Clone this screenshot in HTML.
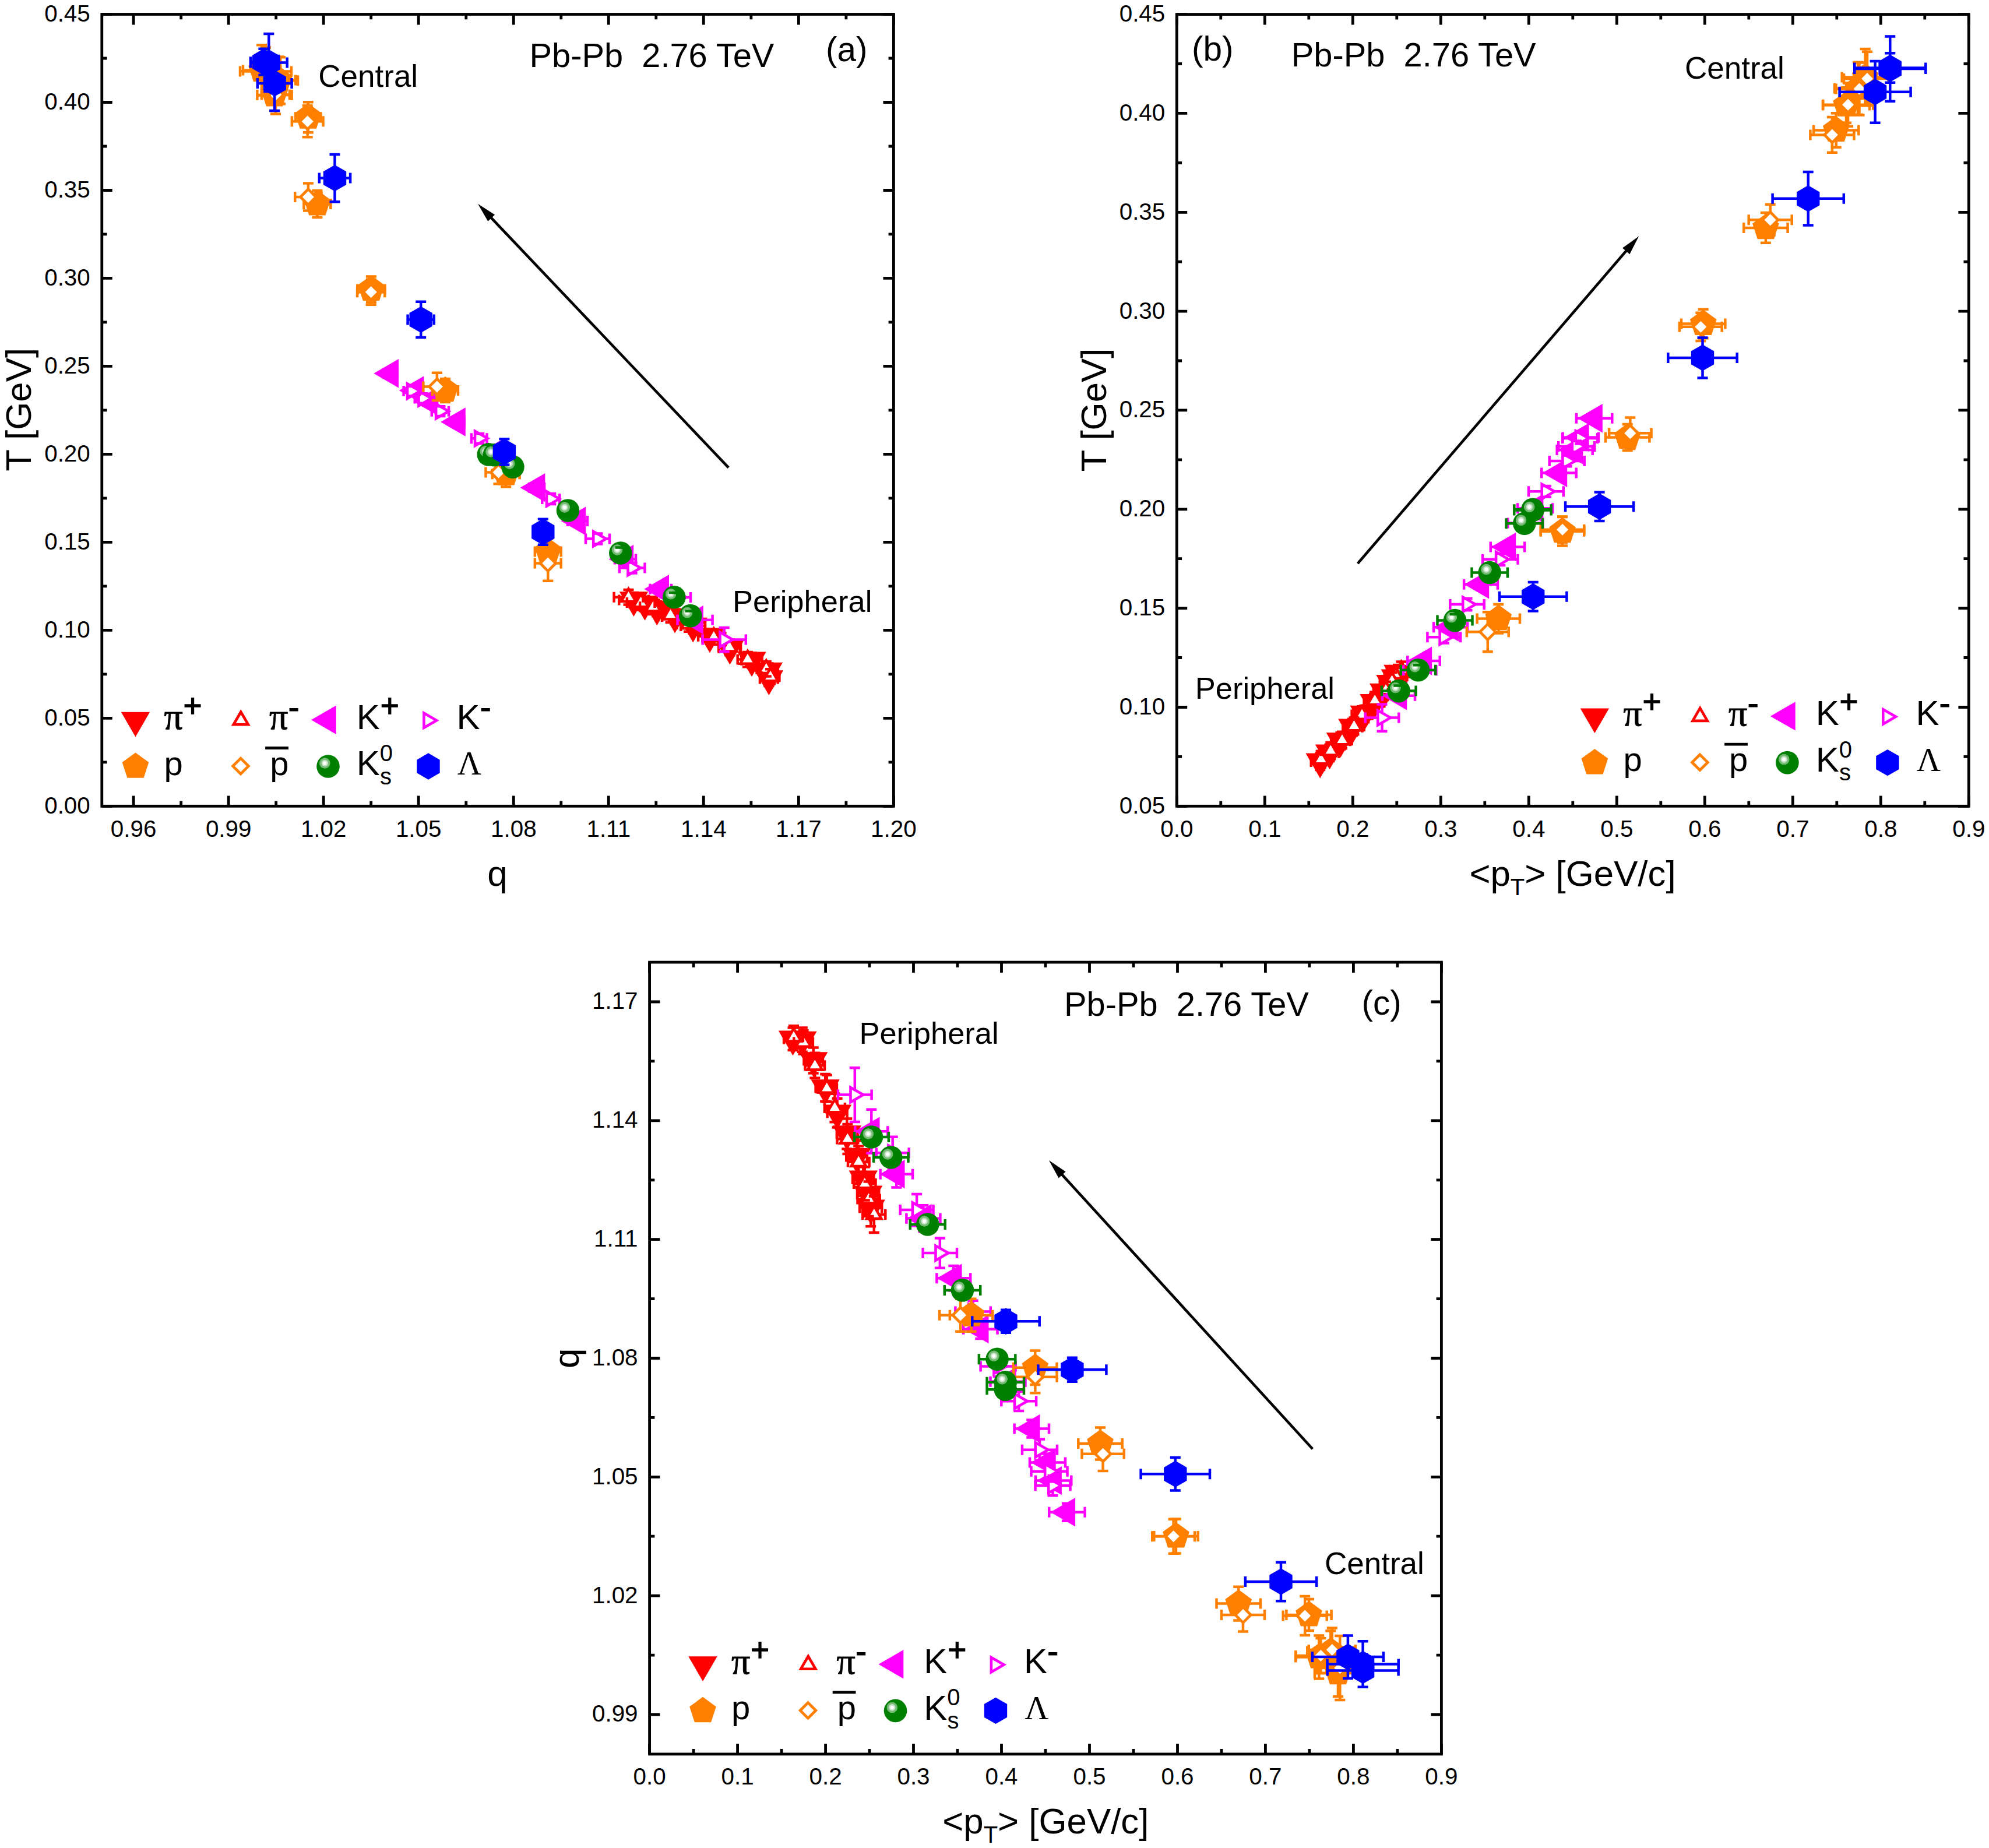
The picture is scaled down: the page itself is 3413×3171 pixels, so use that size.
<!DOCTYPE html>
<html><head><meta charset="utf-8"><title>Pb-Pb 2.76 TeV</title><style>html,body{margin:0;padding:0;background:#fff}svg{display:block}</style></head><body>
<svg width="3413" height="3171" viewBox="0 0 3413 3171">
<defs><radialGradient id="hl"><stop offset="0" stop-color="#fff"/><stop offset=".28" stop-color="#fff"/><stop offset=".34" stop-color="#d4ead4"/><stop offset=".56" stop-color="#b9dcb9"/><stop offset=".62" stop-color="#7fbf7f"/><stop offset=".94" stop-color="#6ab56a"/><stop offset="1" stop-color="#008000"/></radialGradient>
<g id="sp"><circle r="19.8" fill="#008000"/><circle cx="-5.7" cy="-5.5" r="9.6" fill="url(#hl)"/></g></defs>
<rect width="3413" height="3171" fill="#fff"/>
<path d="M1062.2 1029.4H1112.8M1087.5 1016.9V1041.9M1082.3 1036.2H1130.7M1106.5 1023.7V1048.7M1104.2 1044.8H1150.4M1127.3 1032.3V1057.3M1136.1 1057.9H1180.1M1158.1 1045.4V1070.4M1168.3 1074H1210.1M1189.2 1061.5V1086.5M1198.1 1091.7H1237.7M1217.9 1079.2V1104.2M1233.7 1111.9H1271.1M1252.4 1099.4V1124.4M1272.4 1132.8H1307.6M1290 1120.3V1145.3M1301.8 1151H1334.8M1318.3 1138.5V1163.5M1304 1164.4H1334.8M1319.4 1151.9V1176.9" stroke="#ff0000" stroke-width="4.5" fill="none"/>
<path d="M1087.5 1057.9L1062.8 1015.2H1112.2z" fill="#ff0000"/><path d="M1106.5 1064.7L1081.8 1022H1131.2z" fill="#ff0000"/><path d="M1127.3 1073.3L1102.6 1030.5H1152z" fill="#ff0000"/><path d="M1158.1 1086.4L1133.4 1043.7H1182.8z" fill="#ff0000"/><path d="M1189.2 1102.5L1164.5 1059.8H1213.9z" fill="#ff0000"/><path d="M1217.9 1120.2L1193.2 1077.5H1242.6z" fill="#ff0000"/><path d="M1252.4 1140.4L1227.7 1097.7H1277.1z" fill="#ff0000"/><path d="M1290 1161.3L1265.3 1118.5H1314.7z" fill="#ff0000"/><path d="M1318.3 1179.5L1293.6 1136.8H1343z" fill="#ff0000"/><path d="M1319.4 1192.9L1294.7 1150.2H1344.1z" fill="#ff0000"/>
<path d="M1062.2 1020.4v18.0M1112.8 1020.4v18.0M1078.5 1016.9h18.0M1078.5 1041.9h18.0M1082.3 1027.2v18.0M1130.7 1027.2v18.0M1097.5 1023.7h18.0M1097.5 1048.7h18.0M1104.2 1035.8v18.0M1150.4 1035.8v18.0M1118.3 1032.3h18.0M1118.3 1057.3h18.0M1136.1 1048.9v18.0M1180.1 1048.9v18.0M1149.1 1045.4h18.0M1149.1 1070.4h18.0M1168.3 1065v18.0M1210.1 1065v18.0M1180.2 1061.5h18.0M1180.2 1086.5h18.0M1198.1 1082.7v18.0M1237.7 1082.7v18.0M1208.9 1079.2h18.0M1208.9 1104.2h18.0M1233.7 1102.9v18.0M1271.1 1102.9v18.0M1243.4 1099.4h18.0M1243.4 1124.4h18.0M1272.4 1123.8v18.0M1307.6 1123.8v18.0M1281 1120.3h18.0M1281 1145.3h18.0M1301.8 1142v18.0M1334.8 1142v18.0M1309.3 1138.5h18.0M1309.3 1163.5h18.0M1304 1155.4v18.0M1334.8 1155.4v18.0M1310.4 1151.9h18.0M1310.4 1176.9h18.0" stroke="#ff0000" stroke-width="4.5" fill="none"/>
<path d="M1053.6 1024.8H1103.4M1078.5 1012.1V1037.5M1075.9 1033.9H1123.5M1099.7 1021.2V1046.6M1098.1 1041.3H1143.5M1120.8 1028.6V1054M1129 1055.2H1172.2M1150.6 1042.5V1067.9M1161.5 1071H1202.5M1182 1058.3V1083.7M1205.4 1093H1244.2M1224.8 1080.3V1105.7M1233.2 1110.2H1269.8M1251.5 1097.5V1122.9M1265.7 1131.6H1300.1M1282.9 1118.9V1144.3M1298.6 1147.8H1331M1314.8 1135.1V1160.5M1306.8 1160.9H1337.4M1322.1 1148.2V1173.6" stroke="#ff0000" stroke-width="4.5" fill="none"/>
<path d="M1078.5 1010.3L1091.1 1032H1065.9z" fill="#fff" stroke="#ff0000" stroke-width="4.6"/><path d="M1099.7 1019.4L1112.3 1041.2H1087.1z" fill="#fff" stroke="#ff0000" stroke-width="4.6"/><path d="M1120.8 1026.8L1133.4 1048.5H1108.2z" fill="#fff" stroke="#ff0000" stroke-width="4.6"/><path d="M1150.6 1040.7L1163.2 1062.5H1138z" fill="#fff" stroke="#ff0000" stroke-width="4.6"/><path d="M1182 1056.5L1194.6 1078.2H1169.4z" fill="#fff" stroke="#ff0000" stroke-width="4.6"/><path d="M1224.8 1078.5L1237.4 1100.2H1212.2z" fill="#fff" stroke="#ff0000" stroke-width="4.6"/><path d="M1251.5 1095.7L1264.1 1117.5H1238.9z" fill="#fff" stroke="#ff0000" stroke-width="4.6"/><path d="M1282.9 1117.1L1295.5 1138.8H1270.3z" fill="#fff" stroke="#ff0000" stroke-width="4.6"/><path d="M1314.8 1133.3L1327.4 1155H1302.2z" fill="#fff" stroke="#ff0000" stroke-width="4.6"/><path d="M1322.1 1146.4L1334.7 1168.2H1309.5z" fill="#fff" stroke="#ff0000" stroke-width="4.6"/>
<path d="M1053.6 1015.8v18.0M1103.4 1015.8v18.0M1069.5 1012.1h18.0M1069.5 1037.5h18.0M1075.9 1024.9v18.0M1123.5 1024.9v18.0M1090.7 1021.2h18.0M1090.7 1046.6h18.0M1098.1 1032.3v18.0M1143.5 1032.3v18.0M1111.8 1028.6h18.0M1111.8 1054h18.0M1129 1046.2v18.0M1172.2 1046.2v18.0M1141.6 1042.5h18.0M1141.6 1067.9h18.0M1161.5 1062v18.0M1202.5 1062v18.0M1173 1058.3h18.0M1173 1083.7h18.0M1205.4 1084v18.0M1244.2 1084v18.0M1215.8 1080.3h18.0M1215.8 1105.7h18.0M1233.2 1101.2v18.0M1269.8 1101.2v18.0M1242.5 1097.5h18.0M1242.5 1122.9h18.0M1265.7 1122.6v18.0M1300.1 1122.6v18.0M1273.9 1118.9h18.0M1273.9 1144.3h18.0M1298.6 1138.8v18.0M1331 1138.8v18.0M1305.8 1135.1h18.0M1305.8 1160.5h18.0M1306.8 1151.9v18.0M1337.4 1151.9v18.0M1313.1 1148.2h18.0M1313.1 1173.6h18.0" stroke="#ff0000" stroke-width="4.5" fill="none"/>
<path d="M657.8 640.7H681.8M669.8 634.7V646.7M701.2 669.9H725.2M713.2 663.9V675.9M726 689H750M738 683V695M772.5 724H796.5M784.5 718V730M837 778H861M849 772V784M908.1 836.8H934.1M921.1 830.8V842.8M974 894.1H1008M991 888.1V900.1M1055 959.4H1091M1073 953.4V965.4M1115.5 1010.8H1152.1M1133.8 1004.8V1016.8M1162.6 1063.8H1222.6M1192.6 1055.8V1071.8" stroke="#ff00ff" stroke-width="4.5" fill="none"/>
<path d="M641.3 640.7L684 616V665.4z" fill="#ff00ff"/><path d="M684.7 669.9L727.5 645.2V694.6z" fill="#ff00ff"/><path d="M709.5 689L752.2 664.3V713.7z" fill="#ff00ff"/><path d="M756 724L798.8 699.3V748.7z" fill="#ff00ff"/><path d="M820.5 778L863.2 753.3V802.7z" fill="#ff00ff"/><path d="M892.6 836.8L935.4 812.1V861.5z" fill="#ff00ff"/><path d="M962.5 894.1L1005.2 869.4V918.8z" fill="#ff00ff"/><path d="M1044.5 959.4L1087.2 934.7V984.1z" fill="#ff00ff"/><path d="M1105.3 1010.8L1148 986.1V1035.5z" fill="#ff00ff"/><path d="M1164.1 1063.8L1206.8 1039.1V1088.5z" fill="#ff00ff"/>
<path d="M657.8 631.7v18.0M681.8 631.7v18.0M660.8 634.7h18.0M660.8 646.7h18.0M701.2 660.9v18.0M725.2 660.9v18.0M704.2 663.9h18.0M704.2 675.9h18.0M726 680v18.0M750 680v18.0M729 683h18.0M729 695h18.0M772.5 715v18.0M796.5 715v18.0M775.5 718h18.0M775.5 730h18.0M837 769v18.0M861 769v18.0M840 772h18.0M840 784h18.0M908.1 827.8v18.0M934.1 827.8v18.0M912.1 830.8h18.0M912.1 842.8h18.0M974 885.1v18.0M1008 885.1v18.0M982 888.1h18.0M982 900.1h18.0M1055 950.4v18.0M1091 950.4v18.0M1064 953.4h18.0M1064 965.4h18.0M1115.5 1001.8v18.0M1152.1 1001.8v18.0M1124.8 1004.8h18.0M1124.8 1016.8h18.0M1162.6 1054.8v18.0M1222.6 1054.8v18.0M1183.6 1055.8h18.0M1183.6 1071.8h18.0" stroke="#ff00ff" stroke-width="4.5" fill="none"/>
<path d="M692.6 671.1H720M706.3 662.7V679.5M711.8 683.6H739.8M725.8 675.2V692M740.8 705.7H770M755.4 697.3V714.1M808.9 752.3H835.5M822.2 743.9V760.7M856 800.5H884M870 791.5V809.5M930.3 855.9H960.3M945.3 846.9V864.9M1005 924.6H1046M1025.5 915.6V933.6M1062.9 974.5H1106.5M1084.7 965.5V983.5M1141 1025.1H1185M1163 1016.1V1034.1M1205.6 1097.5H1279.8M1242.7 1076.9V1118.1" stroke="#ff00ff" stroke-width="4.5" fill="none"/>
<path d="M720.8 671.1L699 683.7V658.5z" fill="#fff" stroke="#ff00ff" stroke-width="4.6"/><path d="M740.3 683.6L718.5 696.2V671z" fill="#fff" stroke="#ff00ff" stroke-width="4.6"/><path d="M769.9 705.7L748.1 718.3V693.1z" fill="#fff" stroke="#ff00ff" stroke-width="4.6"/><path d="M836.7 752.3L815 764.9V739.7z" fill="#fff" stroke="#ff00ff" stroke-width="4.6"/><path d="M884.5 800.5L862.8 813.1V787.9z" fill="#fff" stroke="#ff00ff" stroke-width="4.6"/><path d="M959.8 855.9L938 868.5V843.3z" fill="#fff" stroke="#ff00ff" stroke-width="4.6"/><path d="M1040 924.6L1018.2 937.2V912z" fill="#fff" stroke="#ff00ff" stroke-width="4.6"/><path d="M1099.2 974.5L1077.5 987.1V961.9z" fill="#fff" stroke="#ff00ff" stroke-width="4.6"/><path d="M1177.5 1025.1L1155.8 1037.7V1012.5z" fill="#fff" stroke="#ff00ff" stroke-width="4.6"/><path d="M1257.2 1097.5L1235.5 1110.1V1084.9z" fill="#fff" stroke="#ff00ff" stroke-width="4.6"/>
<path d="M692.6 662.1v18.0M720 662.1v18.0M697.3 662.7h18.0M697.3 679.5h18.0M711.8 674.6v18.0M739.8 674.6v18.0M716.8 675.2h18.0M716.8 692h18.0M740.8 696.7v18.0M770 696.7v18.0M746.4 697.3h18.0M746.4 714.1h18.0M808.9 743.3v18.0M835.5 743.3v18.0M813.2 743.9h18.0M813.2 760.7h18.0M856 791.5v18.0M884 791.5v18.0M861 791.5h18.0M861 809.5h18.0M930.3 846.9v18.0M960.3 846.9v18.0M936.3 846.9h18.0M936.3 864.9h18.0M1005 915.6v18.0M1046 915.6v18.0M1016.5 915.6h18.0M1016.5 933.6h18.0M1062.9 965.5v18.0M1106.5 965.5v18.0M1075.7 965.5h18.0M1075.7 983.5h18.0M1141 1016.1v18.0M1185 1016.1v18.0M1154 1016.1h18.0M1154 1034.1h18.0M1205.6 1088.5v18.0M1279.8 1088.5v18.0M1233.7 1076.9h18.0M1233.7 1118.1h18.0" stroke="#ff00ff" stroke-width="4.5" fill="none"/>
<path d="M417 120.5H481M449 77.2V163.8M451 137.6H507M479 97.6V177.6M441.4 163H500.6M471 136V190M507.2 201.3H550.4M528.8 175.3V227.3M521.4 350.1H567.4M544.4 327.1V373.1M613.3 496.5H660.5M636.9 474.5V518.5M742 669.9H786M764 649.9V689.9M844.8 813.2H891.6M868.2 791.2V835.2M917.9 946.4H962.7M940.3 924.4V968.4" stroke="#ff8000" stroke-width="4.5" fill="none"/>
<path d="M449 96.5L471.8 113.1L463.1 139.9L434.9 139.9L426.2 113.1z" fill="#ff8000"/><path d="M479 113.6L501.8 130.2L493.1 157L464.9 157L456.2 130.2z" fill="#ff8000"/><path d="M471 139L493.8 155.6L485.1 182.4L456.9 182.4L448.2 155.6z" fill="#ff8000"/><path d="M528.8 177.3L551.6 193.9L542.9 220.7L514.7 220.7L506 193.9z" fill="#ff8000"/><path d="M544.4 326.1L567.2 342.7L558.5 369.5L530.3 369.5L521.6 342.7z" fill="#ff8000"/><path d="M636.9 472.5L659.7 489.1L651 515.9L622.8 515.9L614.1 489.1z" fill="#ff8000"/><path d="M764 645.9L786.8 662.5L778.1 689.3L749.9 689.3L741.2 662.5z" fill="#ff8000"/><path d="M868.2 789.2L891 805.8L882.3 832.6L854.1 832.6L845.4 805.8z" fill="#ff8000"/><path d="M940.3 922.4L963.1 939L954.4 965.8L926.2 965.8L917.5 939z" fill="#ff8000"/>
<path d="M417 111.5v18.0M481 111.5v18.0M440 77.2h18.0M440 163.8h18.0M451 128.6v18.0M507 128.6v18.0M470 97.6h18.0M470 177.6h18.0M441.4 154v18.0M500.6 154v18.0M462 136h18.0M462 190h18.0M507.2 192.3v18.0M550.4 192.3v18.0M519.8 175.3h18.0M519.8 227.3h18.0M521.4 341.1v18.0M567.4 341.1v18.0M535.4 327.1h18.0M535.4 373.1h18.0M613.3 487.5v18.0M660.5 487.5v18.0M627.9 474.5h18.0M627.9 518.5h18.0M742 660.9v18.0M786 660.9v18.0M755 649.9h18.0M755 689.9h18.0M844.8 804.2v18.0M891.6 804.2v18.0M859.2 791.2h18.0M859.2 835.2h18.0M917.9 937.4v18.0M962.7 937.4v18.0M931.3 924.4h18.0M931.3 968.4h18.0" stroke="#ff8000" stroke-width="4.5" fill="none"/>
<path d="M412 122.6H500M456 81.6V163.6M451 138.2H511M481 98.2V178.2M449 162.4H497M473 129.4V195.4M500.9 208.3H554.5M527.7 181.3V235.3M506.2 338H551.6M528.9 314.5V361.5M613.1 501.2H660.3M636.7 479.7V522.7M726.4 663.4H773.4M749.9 639.7V687.1M833.5 810.5H877.5M855.5 790.7V830.3M917.9 966.5H962.7M940.3 936.3V996.7" stroke="#ff8000" stroke-width="4.5" fill="none"/>
<path d="M456 109.2L469.4 122.6L456 135.9L442.6 122.6z" fill="#fff" stroke="#ff8000" stroke-width="4.7"/><path d="M481 124.8L494.4 138.2L481 151.5L467.6 138.2z" fill="#fff" stroke="#ff8000" stroke-width="4.7"/><path d="M473 149.1L486.4 162.4L473 175.8L459.6 162.4z" fill="#fff" stroke="#ff8000" stroke-width="4.7"/><path d="M527.7 195L541.1 208.3L527.7 221.7L514.4 208.3z" fill="#fff" stroke="#ff8000" stroke-width="4.7"/><path d="M528.9 324.6L542.2 338L528.9 351.4L515.5 338z" fill="#fff" stroke="#ff8000" stroke-width="4.7"/><path d="M636.7 487.8L650.1 501.2L636.7 514.5L623.4 501.2z" fill="#fff" stroke="#ff8000" stroke-width="4.7"/><path d="M749.9 650L763.2 663.4L749.9 676.8L736.5 663.4z" fill="#fff" stroke="#ff8000" stroke-width="4.7"/><path d="M855.5 797.1L868.9 810.5L855.5 823.9L842.1 810.5z" fill="#fff" stroke="#ff8000" stroke-width="4.7"/><path d="M940.3 953.1L953.6 966.5L940.3 979.9L926.9 966.5z" fill="#fff" stroke="#ff8000" stroke-width="4.7"/>
<path d="M412 113.6v18.0M500 113.6v18.0M447 81.6h18.0M447 163.6h18.0M451 129.2v18.0M511 129.2v18.0M472 98.2h18.0M472 178.2h18.0M449 153.4v18.0M497 153.4v18.0M464 129.4h18.0M464 195.4h18.0M500.9 199.3v18.0M554.5 199.3v18.0M518.7 181.3h18.0M518.7 235.3h18.0M506.2 329v18.0M551.6 329v18.0M519.9 314.5h18.0M519.9 361.5h18.0M613.1 492.2v18.0M660.3 492.2v18.0M627.7 479.7h18.0M627.7 522.7h18.0M726.4 654.4v18.0M773.4 654.4v18.0M740.9 639.7h18.0M740.9 687.1h18.0M833.5 801.5v18.0M877.5 801.5v18.0M846.5 790.7h18.0M846.5 830.3h18.0M917.9 957.5v18.0M962.7 957.5v18.0M931.3 936.3h18.0M931.3 996.7h18.0" stroke="#ff8000" stroke-width="4.5" fill="none"/>
<path d="M1064.8 939.5V958.5M1156.8 1017.1V1032.5M1184.8 1048.6V1064.6" stroke="#008000" stroke-width="4.5" fill="none"/>
<use href="#sp" x="838.3" y="779.9"/><use href="#sp" x="848.2" y="780.8"/><use href="#sp" x="879.9" y="801.1"/><use href="#sp" x="974.5" y="876"/><use href="#sp" x="1064.8" y="949"/><use href="#sp" x="1156.8" y="1024.8"/><use href="#sp" x="1184.8" y="1056.6"/>
<path d="M1055.8 939.5h18.0M1055.8 958.5h18.0M1147.8 1017.1h18.0M1147.8 1032.5h18.0M1175.8 1048.6h18.0M1175.8 1064.6h18.0" stroke="#008000" stroke-width="4.5" fill="none"/>
<path d="M429.9 106.2H474.9M452.4 83.7V128.7M429.9 107.6H492.7M461.3 58.1V157.1M441.8 142.9H500.6M471.2 95.9V189.9M547.9 305.6H601.1M574.5 264.9V346.3M699.6 548.4H744.8M722.2 517.7V579.1M849 775.4H881.8M865.4 753.3V797.5M916.2 912.8H947.4M931.8 890.8V934.8" stroke="#0000ff" stroke-width="4.5" fill="none"/>
<path d="M452.4 83.5L472.1 94.9V117.5L452.4 128.9L432.7 117.5V94.9z" fill="#0000ff"/><path d="M461.3 84.9L481 96.2V118.9L461.3 130.3L441.6 118.9V96.2z" fill="#0000ff"/><path d="M471.2 120.2L490.9 131.6V154.2L471.2 165.6L451.5 154.2V131.6z" fill="#0000ff"/><path d="M574.5 282.9L594.2 294.2V317L574.5 328.3L554.8 317V294.2z" fill="#0000ff"/><path d="M722.2 525.7L741.9 537V559.8L722.2 571.1L702.5 559.8V537z" fill="#0000ff"/><path d="M865.4 752.7L885.1 764V786.8L865.4 798.1L845.7 786.8V764z" fill="#0000ff"/><path d="M931.8 890.1L951.5 901.4V924.1L931.8 935.5L912.1 924.1V901.4z" fill="#0000ff"/>
<path d="M429.9 97.2v18.0M474.9 97.2v18.0M443.4 83.7h18.0M443.4 128.7h18.0M429.9 98.6v18.0M492.7 98.6v18.0M452.3 58.1h18.0M452.3 157.1h18.0M441.8 133.9v18.0M500.6 133.9v18.0M462.2 95.9h18.0M462.2 189.9h18.0M547.9 296.6v18.0M601.1 296.6v18.0M565.5 264.9h18.0M565.5 346.3h18.0M699.6 539.4v18.0M744.8 539.4v18.0M713.2 517.7h18.0M713.2 579.1h18.0M849 766.4v18.0M881.8 766.4v18.0M856.4 753.3h18.0M856.4 797.5h18.0M916.2 903.8v18.0M947.4 903.8v18.0M922.8 890.8h18.0M922.8 934.8h18.0" stroke="#0000ff" stroke-width="4.5" fill="none"/>
<path d="M229.1 1383.3v-17.9M229.1 24.5v17.9M392.2 1383.3v-17.9M392.2 24.5v17.9M555.2 1383.3v-17.9M555.2 24.5v17.9M718.2 1383.3v-17.9M718.2 24.5v17.9M881.3 1383.3v-17.9M881.3 24.5v17.9M1044.3 1383.3v-17.9M1044.3 24.5v17.9M1207.3 1383.3v-17.9M1207.3 24.5v17.9M1370.4 1383.3v-17.9M1370.4 24.5v17.9M1533.4 1383.3v-17.9M1533.4 24.5v17.9M310.7 1383.3v-8.8M310.7 24.5v8.8M473.7 1383.3v-8.8M473.7 24.5v8.8M636.7 1383.3v-8.8M636.7 24.5v8.8M799.8 1383.3v-8.8M799.8 24.5v8.8M962.8 1383.3v-8.8M962.8 24.5v8.8M1125.8 1383.3v-8.8M1125.8 24.5v8.8M1288.9 1383.3v-8.8M1288.9 24.5v8.8M1451.9 1383.3v-8.8M1451.9 24.5v8.8M174.8 1383.3h17.9M1533.4 1383.3h-17.9M174.8 1232.3h17.9M1533.4 1232.3h-17.9M174.8 1081.3h17.9M1533.4 1081.3h-17.9M174.8 930.4h17.9M1533.4 930.4h-17.9M174.8 779.4h17.9M1533.4 779.4h-17.9M174.8 628.4h17.9M1533.4 628.4h-17.9M174.8 477.4h17.9M1533.4 477.4h-17.9M174.8 326.5h17.9M1533.4 326.5h-17.9M174.8 175.5h17.9M1533.4 175.5h-17.9M174.8 24.5h17.9M1533.4 24.5h-17.9M174.8 1307.8h8.8M1533.4 1307.8h-8.8M174.8 1156.8h8.8M1533.4 1156.8h-8.8M174.8 1005.9h8.8M1533.4 1005.9h-8.8M174.8 854.9h8.8M1533.4 854.9h-8.8M174.8 703.9h8.8M1533.4 703.9h-8.8M174.8 552.9h8.8M1533.4 552.9h-8.8M174.8 401.9h8.8M1533.4 401.9h-8.8M174.8 251h8.8M1533.4 251h-8.8M174.8 100h8.8M1533.4 100h-8.8" stroke="#000" stroke-width="4.8" fill="none"/>
<rect x="174.8" y="24.5" width="1358.6" height="1358.8" fill="none" stroke="#000" stroke-width="4.8"/>
<g font-family="Liberation Sans, Arial, sans-serif" font-size="40.4" fill="#000">
<text x="229.1" y="1435.6" text-anchor="middle">0.96</text>
<text x="392.2" y="1435.6" text-anchor="middle">0.99</text>
<text x="555.2" y="1435.6" text-anchor="middle">1.02</text>
<text x="718.2" y="1435.6" text-anchor="middle">1.05</text>
<text x="881.3" y="1435.6" text-anchor="middle">1.08</text>
<text x="1044.3" y="1435.6" text-anchor="middle">1.11</text>
<text x="1207.3" y="1435.6" text-anchor="middle">1.14</text>
<text x="1370.4" y="1435.6" text-anchor="middle">1.17</text>
<text x="1533.4" y="1435.6" text-anchor="middle">1.20</text>
<text x="154.8" y="1395.7" text-anchor="end">0.00</text>
<text x="154.8" y="1244.7" text-anchor="end">0.05</text>
<text x="154.8" y="1093.7" text-anchor="end">0.10</text>
<text x="154.8" y="942.8" text-anchor="end">0.15</text>
<text x="154.8" y="791.8" text-anchor="end">0.20</text>
<text x="154.8" y="640.8" text-anchor="end">0.25</text>
<text x="154.8" y="489.8" text-anchor="end">0.30</text>
<text x="154.8" y="338.9" text-anchor="end">0.35</text>
<text x="154.8" y="187.9" text-anchor="end">0.40</text>
<text x="154.8" y="36.9" text-anchor="end">0.45</text>
</g>
<path d="M1250.1 802.4L841.8 372.7" stroke="#000" stroke-width="4.6"/>
<path d="M820 349.8L849.1 368.6L837.3 379.8z" fill="#000"/>
<g transform="translate(0 0)">
<path d="M232.5 1264.5L207.8 1221.8H257.2z" fill="#ff0000"/>
<path d="M413.3 1221.6L425.9 1243.3H400.7z" fill="#fff" stroke="#ff0000" stroke-width="4.6"/>
<path d="M534 1235.3L576.8 1210.6V1260z" fill="#ff00ff"/>
<path d="M749.1 1236.2L727.4 1248.8V1223.6z" fill="#fff" stroke="#ff00ff" stroke-width="4.6"/>
<path d="M232.5 1291.4L255.3 1308L246.6 1334.8L218.4 1334.8L209.7 1308z" fill="#ff8000"/>
<path d="M413 1301.2L426.4 1314.6L413 1327.9L399.6 1314.6z" fill="#fff" stroke="#ff8000" stroke-width="4.7"/>
<use href="#sp" x="563" y="1315"/>
<path d="M735 1292.3L754.7 1303.7V1326.3L735 1337.7L715.3 1326.3V1303.7z" fill="#0000ff"/>
<g font-family="Liberation Sans, Arial, sans-serif" font-size="58" fill="#000">
<text font-family="Liberation Serif, Times New Roman, serif" font-size="64" stroke="#000" stroke-width="0.9" x="281.5" y="1251.3">π</text>
<text font-size="55" stroke="#000" stroke-width="1.3" x="314.6" y="1229.6">+</text>
<text font-family="Liberation Serif, Times New Roman, serif" font-size="64" stroke="#000" stroke-width="0.9" x="462" y="1251.3">π</text>
<text stroke="#000" stroke-width="1" x="494.6" y="1232.9">-</text>
<text font-size="60" x="611.8" y="1250.9">K</text><text font-size="55" stroke="#000" stroke-width="1.3" x="652.7" y="1229.9">+</text>
<text font-size="60" x="783.6" y="1250.9">K</text><text stroke="#000" stroke-width="1" x="823.5" y="1232.9">-</text>
<text x="281.5" y="1329.8">p</text>
<text x="463.2" y="1329.8">p</text><path d="M455.2 1283.5H495" stroke="#000" stroke-width="4.9"/>
<text font-size="60" x="611.8" y="1330.3">K</text><text font-size="40" x="651.8" y="1306">0</text><text font-size="40" x="652" y="1345.6">s</text>
<text font-family="Liberation Serif, Times New Roman, serif" font-size="57" x="784.8" y="1329.4">Λ</text>
</g></g>
<g font-family="Liberation Sans, Arial, sans-serif" fill="#000">
<text font-size="57.8" x="908.5" y="114.6" xml:space="preserve">Pb-Pb  2.76 TeV</text>
<text font-size="58.5" x="1417" y="104.6">(a)</text>
<text font-size="53" x="546.3" y="149.1">Central</text>
<text font-size="52.5" x="1257" y="1049.8">Peripheral</text>
<text font-size="61.8" transform="translate(53 702.8) rotate(-90)" text-anchor="middle">T [GeV]</text>
<text font-size="62" x="853.5" y="1520.3" text-anchor="middle">q</text>
</g>
<path d="M2379.9 1155H2417.9M2398.9 1141V1169.1M2375.7 1162.7H2412.9M2394.3 1148.6V1176.7M2367.8 1172.3H2404.2M2386 1158.3V1186.4M2356.9 1187.1H2392.5M2374.7 1173V1201.1M2340.6 1205.2H2375.4M2358 1191.1V1219.2M2324.3 1225.1H2358.3M2341.3 1211V1239.2M2304.3 1247.8H2337.5M2320.9 1233.8V1261.9M2284.2 1271.3H2316.6M2300.4 1257.3V1285.4M2265.7 1291.8H2297.3M2281.5 1277.7V1305.9M2249.8 1306.9H2280.6M2265.2 1292.8V1320.9" stroke="#ff0000" stroke-width="4.5" fill="none"/>
<path d="M2398.9 1183.5L2374.2 1140.8H2423.6z" fill="#ff0000"/><path d="M2394.3 1191.2L2369.6 1148.4H2419z" fill="#ff0000"/><path d="M2386 1200.8L2361.3 1158.1H2410.7z" fill="#ff0000"/><path d="M2374.7 1215.6L2350 1172.8H2399.4z" fill="#ff0000"/><path d="M2358 1233.7L2333.3 1190.9H2382.7z" fill="#ff0000"/><path d="M2341.3 1253.6L2316.6 1210.8H2366z" fill="#ff0000"/><path d="M2320.9 1276.3L2296.2 1233.6H2345.6z" fill="#ff0000"/><path d="M2300.4 1299.8L2275.7 1257.1H2325.1z" fill="#ff0000"/><path d="M2281.5 1320.3L2256.8 1277.5H2306.2z" fill="#ff0000"/><path d="M2265.2 1335.4L2240.5 1292.6H2289.9z" fill="#ff0000"/>
<path d="M2379.9 1146v18.0M2417.9 1146v18.0M2389.9 1141h18.0M2389.9 1169.1h18.0M2375.7 1153.7v18.0M2412.9 1153.7v18.0M2385.3 1148.6h18.0M2385.3 1176.7h18.0M2367.8 1163.3v18.0M2404.2 1163.3v18.0M2377 1158.3h18.0M2377 1186.4h18.0M2356.9 1178.1v18.0M2392.5 1178.1v18.0M2365.7 1173h18.0M2365.7 1201.1h18.0M2340.6 1196.2v18.0M2375.4 1196.2v18.0M2349 1191.1h18.0M2349 1219.2h18.0M2324.3 1216.1v18.0M2358.3 1216.1v18.0M2332.3 1211h18.0M2332.3 1239.2h18.0M2304.3 1238.8v18.0M2337.5 1238.8v18.0M2311.9 1233.8h18.0M2311.9 1261.9h18.0M2284.2 1262.3v18.0M2316.6 1262.3v18.0M2291.4 1257.3h18.0M2291.4 1285.4h18.0M2265.7 1282.8v18.0M2297.3 1282.8v18.0M2272.5 1277.7h18.0M2272.5 1305.9h18.0M2249.8 1297.9v18.0M2280.6 1297.9v18.0M2256.2 1292.8h18.0M2256.2 1320.9h18.0" stroke="#ff0000" stroke-width="4.5" fill="none"/>
<path d="M2385 1149.8H2424M2404.5 1135.6V1164.1M2376.2 1160.1H2414.4M2395.3 1145.8V1174.4M2369.8 1168.4H2407.2M2388.5 1154.1V1182.7M2359.7 1184H2396.3M2378 1169.7V1198.3M2341.2 1201.8H2377M2359.1 1187.5V1216.1M2319.6 1226.6H2354.6M2337.1 1212.3V1240.8M2306.4 1245.9H2340.6M2323.5 1231.6V1260.2M2286.3 1270H2319.7M2303 1255.7V1284.3M2267 1288.2H2299.6M2283.3 1273.9V1302.5M2250.8 1302.9H2282.6M2266.7 1288.7V1317.2" stroke="#ff0000" stroke-width="4.5" fill="none"/>
<path d="M2404.5 1135.3L2417.1 1157.1H2391.9z" fill="#fff" stroke="#ff0000" stroke-width="4.6"/><path d="M2395.3 1145.6L2407.9 1167.3H2382.7z" fill="#fff" stroke="#ff0000" stroke-width="4.6"/><path d="M2388.5 1153.9L2401.1 1175.6H2375.9z" fill="#fff" stroke="#ff0000" stroke-width="4.6"/><path d="M2378 1169.5L2390.6 1191.3H2365.4z" fill="#fff" stroke="#ff0000" stroke-width="4.6"/><path d="M2359.1 1187.3L2371.7 1209.1H2346.5z" fill="#fff" stroke="#ff0000" stroke-width="4.6"/><path d="M2337.1 1212.1L2349.7 1233.8H2324.5z" fill="#fff" stroke="#ff0000" stroke-width="4.6"/><path d="M2323.5 1231.4L2336.1 1253.2H2310.9z" fill="#fff" stroke="#ff0000" stroke-width="4.6"/><path d="M2303 1255.5L2315.6 1277.2H2290.4z" fill="#fff" stroke="#ff0000" stroke-width="4.6"/><path d="M2283.3 1273.7L2295.9 1295.5H2270.7z" fill="#fff" stroke="#ff0000" stroke-width="4.6"/><path d="M2266.7 1288.4L2279.3 1310.2H2254.1z" fill="#fff" stroke="#ff0000" stroke-width="4.6"/>
<path d="M2385 1140.8v18.0M2424 1140.8v18.0M2395.5 1135.6h18.0M2395.5 1164.1h18.0M2376.2 1151.1v18.0M2414.4 1151.1v18.0M2386.3 1145.8h18.0M2386.3 1174.4h18.0M2369.8 1159.4v18.0M2407.2 1159.4v18.0M2379.5 1154.1h18.0M2379.5 1182.7h18.0M2359.7 1175v18.0M2396.3 1175v18.0M2369 1169.7h18.0M2369 1198.3h18.0M2341.2 1192.8v18.0M2377 1192.8v18.0M2350.1 1187.5h18.0M2350.1 1216.1h18.0M2319.6 1217.6v18.0M2354.6 1217.6v18.0M2328.1 1212.3h18.0M2328.1 1240.8h18.0M2306.4 1236.9v18.0M2340.6 1236.9v18.0M2314.5 1231.6h18.0M2314.5 1260.2h18.0M2286.3 1261v18.0M2319.7 1261v18.0M2294 1255.7h18.0M2294 1284.3h18.0M2267 1279.2v18.0M2299.6 1279.2v18.0M2274.3 1273.9h18.0M2274.3 1302.5h18.0M2250.8 1293.9v18.0M2282.6 1293.9v18.0M2257.7 1288.7h18.0M2257.7 1317.2h18.0" stroke="#ff0000" stroke-width="4.5" fill="none"/>
<path d="M2704.9 717.8H2766.3M2735.6 711V724.5M2681.6 750.6H2743M2712.3 743.9V757.4M2671.7 772.1H2732.7M2702.2 765.3V778.8M2645.3 811.5H2704.7M2675 804.7V818.2M2604.2 872.2H2664.2M2634.2 865.5V879M2557.8 938.4H2616.2M2587 931.6V945.1M2512.1 1002.8H2569.9M2541 996.1V1009.6M2460.1 1076.3H2518.1M2489.1 1069.5V1083M2415.3 1134.1H2470.7M2443 1127.3V1140.8M2372 1193.7H2428M2400 1184.7V1202.7" stroke="#ff00ff" stroke-width="4.5" fill="none"/>
<path d="M2707.1 717.8L2749.8 693.1V742.4z" fill="#ff00ff"/><path d="M2683.8 750.6L2726.6 725.9V775.3z" fill="#ff00ff"/><path d="M2673.7 772.1L2716.4 747.4V796.8z" fill="#ff00ff"/><path d="M2646.5 811.5L2689.2 786.8V836.1z" fill="#ff00ff"/><path d="M2605.7 872.2L2648.4 847.5V896.9z" fill="#ff00ff"/><path d="M2558.5 938.4L2601.2 913.7V963z" fill="#ff00ff"/><path d="M2512.5 1002.8L2555.2 978.1V1027.5z" fill="#ff00ff"/><path d="M2460.6 1076.3L2503.3 1051.6V1101z" fill="#ff00ff"/><path d="M2414.5 1134.1L2457.2 1109.4V1158.8z" fill="#ff00ff"/><path d="M2371.5 1193.7L2414.2 1169V1218.4z" fill="#ff00ff"/>
<path d="M2704.9 708.8v18.0M2766.3 708.8v18.0M2726.6 711h18.0M2726.6 724.5h18.0M2681.6 741.6v18.0M2743 741.6v18.0M2703.3 743.9h18.0M2703.3 757.4h18.0M2671.7 763.1v18.0M2732.7 763.1v18.0M2693.2 765.3h18.0M2693.2 778.8h18.0M2645.3 802.5v18.0M2704.7 802.5v18.0M2666 804.7h18.0M2666 818.2h18.0M2604.2 863.2v18.0M2664.2 863.2v18.0M2625.2 865.5h18.0M2625.2 879h18.0M2557.8 929.4v18.0M2616.2 929.4v18.0M2578 931.6h18.0M2578 945.1h18.0M2512.1 993.8v18.0M2569.9 993.8v18.0M2532 996.1h18.0M2532 1009.6h18.0M2460.1 1067.3v18.0M2518.1 1067.3v18.0M2480.1 1069.5h18.0M2480.1 1083h18.0M2415.3 1125.1v18.0M2470.7 1125.1v18.0M2434 1127.3h18.0M2434 1140.8h18.0M2372 1184.7v18.0M2428 1184.7v18.0M2391 1184.7h18.0M2391 1202.7h18.0" stroke="#ff00ff" stroke-width="4.5" fill="none"/>
<path d="M2681.2 752H2741.2M2711.2 742.5V761.4M2674.2 766H2736.2M2705.2 756.6V775.5M2658.7 790.9H2718.7M2688.7 781.4V800.3M2623 843.3H2682.8M2652.9 833.9V852.8M2587.3 897.5H2647.3M2617.3 887.4V907.6M2544.1 959.8H2604.5M2574.3 949.7V970M2488.3 1037.1H2546.7M2517.5 1027V1047.2M2449.4 1093.3H2506.2M2477.8 1083.1V1103.4M2408.4 1150.2H2464.4M2436.4 1140.1V1160.3M2342.7 1231.6H2400.3M2371.5 1208.4V1254.8" stroke="#ff00ff" stroke-width="4.5" fill="none"/>
<path d="M2725.7 752L2703.9 764.5V739.4z" fill="#fff" stroke="#ff00ff" stroke-width="4.6"/><path d="M2719.7 766L2697.9 778.6V753.5z" fill="#fff" stroke="#ff00ff" stroke-width="4.6"/><path d="M2703.2 790.9L2681.4 803.4V778.3z" fill="#fff" stroke="#ff00ff" stroke-width="4.6"/><path d="M2667.4 843.3L2645.7 855.9V830.7z" fill="#fff" stroke="#ff00ff" stroke-width="4.6"/><path d="M2631.8 897.5L2610.1 910.1V885z" fill="#fff" stroke="#ff00ff" stroke-width="4.6"/><path d="M2588.8 959.8L2567.1 972.4V947.3z" fill="#fff" stroke="#ff00ff" stroke-width="4.6"/><path d="M2532 1037.1L2510.2 1049.7V1024.6z" fill="#fff" stroke="#ff00ff" stroke-width="4.6"/><path d="M2492.3 1093.3L2470.6 1105.8V1080.7z" fill="#fff" stroke="#ff00ff" stroke-width="4.6"/><path d="M2450.9 1150.2L2429.2 1162.7V1137.6z" fill="#fff" stroke="#ff00ff" stroke-width="4.6"/><path d="M2386 1231.6L2364.2 1244.2V1219.1z" fill="#fff" stroke="#ff00ff" stroke-width="4.6"/>
<path d="M2681.2 743v18.0M2741.2 743v18.0M2702.2 742.5h18.0M2702.2 761.4h18.0M2674.2 757v18.0M2736.2 757v18.0M2696.2 756.6h18.0M2696.2 775.5h18.0M2658.7 781.9v18.0M2718.7 781.9v18.0M2679.7 781.4h18.0M2679.7 800.3h18.0M2623 834.3v18.0M2682.8 834.3v18.0M2643.9 833.9h18.0M2643.9 852.8h18.0M2587.3 888.5v18.0M2647.3 888.5v18.0M2608.3 887.4h18.0M2608.3 907.6h18.0M2544.1 950.8v18.0M2604.5 950.8v18.0M2565.3 949.7h18.0M2565.3 970h18.0M2488.3 1028.1v18.0M2546.7 1028.1v18.0M2508.5 1027h18.0M2508.5 1047.2h18.0M2449.4 1084.3v18.0M2506.2 1084.3v18.0M2468.8 1083.1h18.0M2468.8 1103.4h18.0M2408.4 1141.2v18.0M2464.4 1141.2v18.0M2427.4 1140.1h18.0M2427.4 1160.3h18.0M2342.7 1222.6v18.0M2400.3 1222.6v18.0M2362.5 1208.4h18.0M2362.5 1254.8h18.0" stroke="#ff00ff" stroke-width="4.5" fill="none"/>
<path d="M3160.7 132.6H3240.7M3200.7 83.9V181.3M3148 151.8H3228M3188 106.8V196.8M3128 180.4H3208M3168 150V210.8M3112.1 223.5H3189.3M3150.7 194.2V252.7M2992.2 390.9H3067.6M3029.9 365V416.7M2885 555.6H2960.4M2922.7 530.8V580.3M2755 750.6H2830.4M2792.7 728.1V773.1M2643.8 911.8H2718.2M2681 887.1V936.6M2534.6 1061.6H2608M2571.3 1036.9V1086.4" stroke="#ff8000" stroke-width="4.5" fill="none"/>
<path d="M3200.7 108.6L3223.5 125.2L3214.8 152L3186.6 152L3177.9 125.2z" fill="#ff8000"/><path d="M3188 127.8L3210.8 144.4L3202.1 171.2L3173.9 171.2L3165.2 144.4z" fill="#ff8000"/><path d="M3168 156.4L3190.8 173L3182.1 199.8L3153.9 199.8L3145.2 173z" fill="#ff8000"/><path d="M3150.7 199.5L3173.5 216.1L3164.8 242.9L3136.6 242.9L3127.9 216.1z" fill="#ff8000"/><path d="M3029.9 366.9L3052.7 383.5L3044 410.3L3015.8 410.3L3007.1 383.5z" fill="#ff8000"/><path d="M2922.7 531.6L2945.5 548.1L2936.8 575L2908.6 575L2899.9 548.1z" fill="#ff8000"/><path d="M2792.7 726.6L2815.5 743.2L2806.8 770L2778.6 770L2769.9 743.2z" fill="#ff8000"/><path d="M2681 887.8L2703.8 904.4L2695.1 931.2L2666.9 931.2L2658.2 904.4z" fill="#ff8000"/><path d="M2571.3 1037.6L2594.1 1054.2L2585.4 1081.1L2557.2 1081.1L2548.5 1054.2z" fill="#ff8000"/>
<path d="M3160.7 123.6v18.0M3240.7 123.6v18.0M3191.7 83.9h18.0M3191.7 181.3h18.0M3148 142.8v18.0M3228 142.8v18.0M3179 106.8h18.0M3179 196.8h18.0M3128 171.4v18.0M3208 171.4v18.0M3159 150h18.0M3159 210.8h18.0M3112.1 214.5v18.0M3189.3 214.5v18.0M3141.7 194.2h18.0M3141.7 252.7h18.0M2992.2 381.9v18.0M3067.6 381.9v18.0M3020.9 365h18.0M3020.9 416.7h18.0M2885 546.6v18.0M2960.4 546.6v18.0M2913.7 530.8h18.0M2913.7 580.3h18.0M2755 741.6v18.0M2830.4 741.6v18.0M2783.7 728.1h18.0M2783.7 773.1h18.0M2643.8 902.8v18.0M2718.2 902.8v18.0M2672 887.1h18.0M2672 936.6h18.0M2534.6 1052.6v18.0M2608 1052.6v18.0M2562.3 1036.9h18.0M2562.3 1086.4h18.0" stroke="#ff8000" stroke-width="4.5" fill="none"/>
<path d="M3164 135H3244M3204 88.8V181.1M3150.5 152.5H3230.5M3190.5 107.5V197.5M3128.1 179.7H3214.1M3171.1 142.6V216.8M3106.4 231.4H3181.4M3143.9 201V261.7M3000.7 377.3H3074.7M3037.7 350.8V403.7M2881.9 560.8H2954.7M2918.3 536.7V585M2761.1 743.3H2833.5M2797.3 716.6V770M2643.9 908.8H2718.3M2681.1 886.5V931M2516.9 1084.3H2588.7M2552.8 1050.3V1118.2" stroke="#ff8000" stroke-width="4.5" fill="none"/>
<path d="M3204 121.6L3217.3 135L3204 148.3L3190.7 135z" fill="#fff" stroke="#ff8000" stroke-width="4.7"/><path d="M3190.5 139.2L3203.8 152.5L3190.5 165.9L3177.2 152.5z" fill="#fff" stroke="#ff8000" stroke-width="4.7"/><path d="M3171.1 166.4L3184.4 179.7L3171.1 193.1L3157.8 179.7z" fill="#fff" stroke="#ff8000" stroke-width="4.7"/><path d="M3143.9 218L3157.2 231.4L3143.9 244.7L3130.6 231.4z" fill="#fff" stroke="#ff8000" stroke-width="4.7"/><path d="M3037.7 363.9L3051 377.3L3037.7 390.6L3024.3 377.3z" fill="#fff" stroke="#ff8000" stroke-width="4.7"/><path d="M2918.3 547.5L2931.7 560.8L2918.3 574.2L2905 560.8z" fill="#fff" stroke="#ff8000" stroke-width="4.7"/><path d="M2797.3 729.9L2810.7 743.3L2797.3 756.6L2784 743.3z" fill="#fff" stroke="#ff8000" stroke-width="4.7"/><path d="M2681.1 895.4L2694.4 908.8L2681.1 922.1L2667.8 908.8z" fill="#fff" stroke="#ff8000" stroke-width="4.7"/><path d="M2552.8 1070.9L2566.2 1084.3L2552.8 1097.6L2539.5 1084.3z" fill="#fff" stroke="#ff8000" stroke-width="4.7"/>
<path d="M3164 126v18.0M3244 126v18.0M3195 88.8h18.0M3195 181.1h18.0M3150.5 143.5v18.0M3230.5 143.5v18.0M3181.5 107.5h18.0M3181.5 197.5h18.0M3128.1 170.7v18.0M3214.1 170.7v18.0M3162.1 142.6h18.0M3162.1 216.8h18.0M3106.4 222.4v18.0M3181.4 222.4v18.0M3134.9 201h18.0M3134.9 261.7h18.0M3000.7 368.3v18.0M3074.7 368.3v18.0M3028.7 350.8h18.0M3028.7 403.7h18.0M2881.9 551.8v18.0M2954.7 551.8v18.0M2909.3 536.7h18.0M2909.3 585h18.0M2761.1 734.3v18.0M2833.5 734.3v18.0M2788.3 716.6h18.0M2788.3 770h18.0M2643.9 899.8v18.0M2718.3 899.8v18.0M2672.1 886.5h18.0M2672.1 931h18.0M2516.9 1075.3v18.0M2588.7 1075.3v18.0M2543.8 1050.3h18.0M2543.8 1118.2h18.0" stroke="#ff8000" stroke-width="4.5" fill="none"/>
<path d="M2598.3 874.3H2661.7M2598.3 875.4H2661.7M2584.6 898.2H2647M2525.5 982.5H2586.9M2466.5 1064.6H2526.5M2496.5 1053.9V1075.3M2403.8 1149.8H2463.2M2433.5 1141.2V1158.5M2370.8 1185.6H2429.6M2400.2 1176.6V1194.6" stroke="#008000" stroke-width="4.5" fill="none"/>
<use href="#sp" x="2630" y="874.3"/><use href="#sp" x="2630" y="875.4"/><use href="#sp" x="2615.8" y="898.2"/><use href="#sp" x="2556.2" y="982.5"/><use href="#sp" x="2496.5" y="1064.6"/><use href="#sp" x="2433.5" y="1149.8"/><use href="#sp" x="2400.2" y="1185.6"/>
<path d="M2598.3 865.3v18.0M2661.7 865.3v18.0M2598.3 866.4v18.0M2661.7 866.4v18.0M2584.6 889.2v18.0M2647 889.2v18.0M2525.5 973.5v18.0M2586.9 973.5v18.0M2466.5 1055.6v18.0M2526.5 1055.6v18.0M2487.5 1053.9h18.0M2487.5 1075.3h18.0M2403.8 1140.8v18.0M2463.2 1140.8v18.0M2424.5 1141.2h18.0M2424.5 1158.5h18.0M2370.8 1176.6v18.0M2429.6 1176.6v18.0M2391.2 1176.6h18.0M2391.2 1194.6h18.0" stroke="#008000" stroke-width="4.5" fill="none"/>
<path d="M3182.3 116.5H3304.3M3243.3 91.2V141.8M3182.2 118.1H3304.4M3243.3 62.4V173.8M3156.6 157.8H3278.6M3217.6 104.9V210.7M3041.6 340.8H3163.8M3102.7 295V386.6M2862.3 613.9H2980.7M2921.5 579.4V648.5M2686.1 869.3H2803.1M2744.6 844.4V894.1M2573 1023.8H2688.4M2630.7 999.1V1048.6" stroke="#0000ff" stroke-width="4.5" fill="none"/>
<path d="M3243.3 93.8L3263 105.2V127.9L3243.3 139.2L3223.6 127.9V105.2z" fill="#0000ff"/><path d="M3243.3 95.4L3263 106.7V129.4L3243.3 140.8L3223.6 129.4V106.7z" fill="#0000ff"/><path d="M3217.6 135.1L3237.3 146.4V169.1L3217.6 180.5L3197.9 169.1V146.4z" fill="#0000ff"/><path d="M3102.7 318.1L3122.4 329.5V352.2L3102.7 363.5L3083 352.2V329.5z" fill="#0000ff"/><path d="M2921.5 591.2L2941.2 602.6V625.3L2921.5 636.6L2901.8 625.3V602.6z" fill="#0000ff"/><path d="M2744.6 846.6L2764.3 857.9V880.6L2744.6 892L2724.9 880.6V857.9z" fill="#0000ff"/><path d="M2630.7 1001.1L2650.4 1012.5V1035.2L2630.7 1046.5L2611 1035.2V1012.5z" fill="#0000ff"/>
<path d="M3182.3 107.5v18.0M3304.3 107.5v18.0M3234.3 91.2h18.0M3234.3 141.8h18.0M3182.2 109.1v18.0M3304.4 109.1v18.0M3234.3 62.4h18.0M3234.3 173.8h18.0M3156.6 148.8v18.0M3278.6 148.8v18.0M3208.6 104.9h18.0M3208.6 210.7h18.0M3041.6 331.8v18.0M3163.8 331.8v18.0M3093.7 295h18.0M3093.7 386.6h18.0M2862.3 604.9v18.0M2980.7 604.9v18.0M2912.5 579.4h18.0M2912.5 648.5h18.0M2686.1 860.3v18.0M2803.1 860.3v18.0M2735.6 844.4h18.0M2735.6 894.1h18.0M2573 1014.8v18.0M2688.4 1014.8v18.0M2621.7 999.1h18.0M2621.7 1048.6h18.0" stroke="#0000ff" stroke-width="4.5" fill="none"/>
<path d="M2019.3 1383.3v-17.9M2019.3 24.6v17.9M2170.3 1383.3v-17.9M2170.3 24.6v17.9M2321.3 1383.3v-17.9M2321.3 24.6v17.9M2472.3 1383.3v-17.9M2472.3 24.6v17.9M2623.3 1383.3v-17.9M2623.3 24.6v17.9M2774.3 1383.3v-17.9M2774.3 24.6v17.9M2925.3 1383.3v-17.9M2925.3 24.6v17.9M3076.3 1383.3v-17.9M3076.3 24.6v17.9M3227.3 1383.3v-17.9M3227.3 24.6v17.9M3378.3 1383.3v-17.9M3378.3 24.6v17.9M2094.8 1383.3v-8.8M2094.8 24.6v8.8M2245.8 1383.3v-8.8M2245.8 24.6v8.8M2396.8 1383.3v-8.8M2396.8 24.6v8.8M2547.8 1383.3v-8.8M2547.8 24.6v8.8M2698.8 1383.3v-8.8M2698.8 24.6v8.8M2849.8 1383.3v-8.8M2849.8 24.6v8.8M3000.8 1383.3v-8.8M3000.8 24.6v8.8M3151.8 1383.3v-8.8M3151.8 24.6v8.8M3302.8 1383.3v-8.8M3302.8 24.6v8.8M2019.3 1383.3h17.9M3378.3 1383.3h-17.9M2019.3 1213.5h17.9M3378.3 1213.5h-17.9M2019.3 1043.6h17.9M3378.3 1043.6h-17.9M2019.3 873.8h17.9M3378.3 873.8h-17.9M2019.3 703.9h17.9M3378.3 703.9h-17.9M2019.3 534.1h17.9M3378.3 534.1h-17.9M2019.3 364.3h17.9M3378.3 364.3h-17.9M2019.3 194.4h17.9M3378.3 194.4h-17.9M2019.3 24.6h17.9M3378.3 24.6h-17.9M2019.3 1298.4h8.8M3378.3 1298.4h-8.8M2019.3 1128.5h8.8M3378.3 1128.5h-8.8M2019.3 958.7h8.8M3378.3 958.7h-8.8M2019.3 788.9h8.8M3378.3 788.9h-8.8M2019.3 619h8.8M3378.3 619h-8.8M2019.3 449.2h8.8M3378.3 449.2h-8.8M2019.3 279.4h8.8M3378.3 279.4h-8.8M2019.3 109.5h8.8M3378.3 109.5h-8.8" stroke="#000" stroke-width="4.8" fill="none"/>
<rect x="2019.3" y="24.6" width="1359" height="1358.7" fill="none" stroke="#000" stroke-width="4.8"/>
<g font-family="Liberation Sans, Arial, sans-serif" font-size="40.4" fill="#000">
<text x="2019.3" y="1435.6" text-anchor="middle">0.0</text>
<text x="2170.3" y="1435.6" text-anchor="middle">0.1</text>
<text x="2321.3" y="1435.6" text-anchor="middle">0.2</text>
<text x="2472.3" y="1435.6" text-anchor="middle">0.3</text>
<text x="2623.3" y="1435.6" text-anchor="middle">0.4</text>
<text x="2774.3" y="1435.6" text-anchor="middle">0.5</text>
<text x="2925.3" y="1435.6" text-anchor="middle">0.6</text>
<text x="3076.3" y="1435.6" text-anchor="middle">0.7</text>
<text x="3227.3" y="1435.6" text-anchor="middle">0.8</text>
<text x="3378.3" y="1435.6" text-anchor="middle">0.9</text>
<text x="1999.3" y="1395.7" text-anchor="end">0.05</text>
<text x="1999.3" y="1225.9" text-anchor="end">0.10</text>
<text x="1999.3" y="1056" text-anchor="end">0.15</text>
<text x="1999.3" y="886.2" text-anchor="end">0.20</text>
<text x="1999.3" y="716.3" text-anchor="end">0.25</text>
<text x="1999.3" y="546.5" text-anchor="end">0.30</text>
<text x="1999.3" y="376.7" text-anchor="end">0.35</text>
<text x="1999.3" y="206.8" text-anchor="end">0.40</text>
<text x="1999.3" y="37" text-anchor="end">0.45</text>
</g>
<path d="M2329.7 966.9L2791.5 429.3" stroke="#000" stroke-width="4.6"/>
<path d="M2812.2 405.3L2796.4 436.2L2784.1 425.6z" fill="#000"/>
<g transform="translate(2503.9 -6.4)">
<path d="M232.5 1264.5L207.8 1221.8H257.2z" fill="#ff0000"/>
<path d="M413.3 1221.6L425.9 1243.3H400.7z" fill="#fff" stroke="#ff0000" stroke-width="4.6"/>
<path d="M534 1235.3L576.8 1210.6V1260z" fill="#ff00ff"/>
<path d="M749.1 1236.2L727.4 1248.8V1223.6z" fill="#fff" stroke="#ff00ff" stroke-width="4.6"/>
<path d="M232.5 1291.4L255.3 1308L246.6 1334.8L218.4 1334.8L209.7 1308z" fill="#ff8000"/>
<path d="M413 1301.2L426.4 1314.6L413 1327.9L399.6 1314.6z" fill="#fff" stroke="#ff8000" stroke-width="4.7"/>
<use href="#sp" x="563" y="1315"/>
<path d="M735 1292.3L754.7 1303.7V1326.3L735 1337.7L715.3 1326.3V1303.7z" fill="#0000ff"/>
<g font-family="Liberation Sans, Arial, sans-serif" font-size="58" fill="#000">
<text font-family="Liberation Serif, Times New Roman, serif" font-size="64" stroke="#000" stroke-width="0.9" x="281.5" y="1251.3">π</text>
<text font-size="55" stroke="#000" stroke-width="1.3" x="314.6" y="1229.6">+</text>
<text font-family="Liberation Serif, Times New Roman, serif" font-size="64" stroke="#000" stroke-width="0.9" x="462" y="1251.3">π</text>
<text stroke="#000" stroke-width="1" x="494.6" y="1232.9">-</text>
<text font-size="60" x="611.8" y="1250.9">K</text><text font-size="55" stroke="#000" stroke-width="1.3" x="652.7" y="1229.9">+</text>
<text font-size="60" x="783.6" y="1250.9">K</text><text stroke="#000" stroke-width="1" x="823.5" y="1232.9">-</text>
<text x="281.5" y="1329.8">p</text>
<text x="463.2" y="1329.8">p</text><path d="M455.2 1283.5H495" stroke="#000" stroke-width="4.9"/>
<text font-size="60" x="611.8" y="1330.3">K</text><text font-size="40" x="651.8" y="1306">0</text><text font-size="40" x="652" y="1345.6">s</text>
<text font-family="Liberation Serif, Times New Roman, serif" font-size="57" x="784.8" y="1329.4">Λ</text>
</g></g>
<g font-family="Liberation Sans, Arial, sans-serif" fill="#000">
<text font-size="57.8" x="2215.8" y="114.2" xml:space="preserve">Pb-Pb  2.76 TeV</text>
<text font-size="58.5" x="2045" y="104">(b)</text>
<text font-size="53" x="2891" y="135.4">Central</text>
<text font-size="52.5" x="2050.7" y="1198.5">Peripheral</text>
<text font-size="61.8" transform="translate(1898 703.5) rotate(-90)" text-anchor="middle">T [GeV]</text>
<text font-size="61.8" x="2698.5" y="1519.8" text-anchor="middle">&lt;p<tspan font-size="40" dy="15.7">T</tspan><tspan dy="-15.7">&gt; [GeV/c]</tspan></text>
</g>
<path d="M1475.2 2072.6H1513.2M1494.2 2041V2104.3M1471 2048.9H1508.2M1489.6 2018.6V2079.1M1463.1 2022.9H1499.5M1481.3 1994V2051.8M1452.2 1984.4H1487.8M1470 1956.9V2011.9M1435.9 1945.5H1470.7M1453.3 1919.4V1971.6M1419.6 1909.6H1453.6M1436.6 1884.9V1934.4M1399.6 1866.5H1432.8M1416.2 1843.1V1889.9M1379.5 1819.5H1411.9M1395.7 1797.5V1841.5M1361 1784.1H1392.6M1376.8 1763.5V1804.7M1345.1 1782.7H1375.9M1360.5 1763.5V1802" stroke="#ff0000" stroke-width="4.5" fill="none"/>
<path d="M1494.2 2101.1L1469.5 2058.4H1518.9z" fill="#ff0000"/><path d="M1489.6 2077.4L1464.9 2034.6H1514.3z" fill="#ff0000"/><path d="M1481.3 2051.4L1456.6 2008.6H1506z" fill="#ff0000"/><path d="M1470 2012.9L1445.3 1970.1H1494.7z" fill="#ff0000"/><path d="M1453.3 1974L1428.6 1931.2H1478z" fill="#ff0000"/><path d="M1436.6 1938.1L1411.9 1895.4H1461.3z" fill="#ff0000"/><path d="M1416.2 1895L1391.5 1852.2H1440.9z" fill="#ff0000"/><path d="M1395.7 1848L1371 1805.2H1420.4z" fill="#ff0000"/><path d="M1376.8 1812.6L1352.1 1769.8H1401.5z" fill="#ff0000"/><path d="M1360.5 1811.2L1335.8 1768.5H1385.2z" fill="#ff0000"/>
<path d="M1475.2 2063.6v18.0M1513.2 2063.6v18.0M1485.2 2041h18.0M1485.2 2104.3h18.0M1471 2039.9v18.0M1508.2 2039.9v18.0M1480.6 2018.6h18.0M1480.6 2079.1h18.0M1463.1 2013.9v18.0M1499.5 2013.9v18.0M1472.3 1994h18.0M1472.3 2051.8h18.0M1452.2 1975.4v18.0M1487.8 1975.4v18.0M1461 1956.9h18.0M1461 2011.9h18.0M1435.9 1936.5v18.0M1470.7 1936.5v18.0M1444.3 1919.4h18.0M1444.3 1971.6h18.0M1419.6 1900.6v18.0M1453.6 1900.6v18.0M1427.6 1884.9h18.0M1427.6 1934.4h18.0M1399.6 1857.5v18.0M1432.8 1857.5v18.0M1407.2 1843.1h18.0M1407.2 1889.9h18.0M1379.5 1810.5v18.0M1411.9 1810.5v18.0M1386.7 1797.5h18.0M1386.7 1841.5h18.0M1361 1775.1v18.0M1392.6 1775.1v18.0M1367.8 1763.5h18.0M1367.8 1804.7h18.0M1345.1 1773.7v18.0M1375.9 1773.7v18.0M1351.5 1763.5h18.0M1351.5 1802h18.0" stroke="#ff0000" stroke-width="4.5" fill="none"/>
<path d="M1480.3 2083.9H1519.3M1499.8 2052.8V2115M1471.5 2057.4H1509.7M1490.6 2027.6V2087.1M1465.1 2031H1502.5M1483.8 2002.6V2059.4M1455 1993.7H1491.6M1473.3 1966.7V2020.7M1436.5 1954.5H1472.3M1454.4 1928.9V1980.1M1414.9 1901H1449.9M1432.4 1876.7V1925.2M1401.7 1867.6H1435.9M1418.8 1844.7V1890.5M1381.6 1828.3H1415M1398.3 1806.8V1849.8M1362.3 1788.5H1394.9M1378.6 1768.2V1808.7M1346.1 1779.3H1377.9M1362 1760.2V1798.5" stroke="#ff0000" stroke-width="4.5" fill="none"/>
<path d="M1499.8 2069.4L1512.4 2091.1H1487.2z" fill="#fff" stroke="#ff0000" stroke-width="4.6"/><path d="M1490.6 2042.9L1503.2 2064.6H1478z" fill="#fff" stroke="#ff0000" stroke-width="4.6"/><path d="M1483.8 2016.5L1496.4 2038.2H1471.2z" fill="#fff" stroke="#ff0000" stroke-width="4.6"/><path d="M1473.3 1979.2L1485.9 2001H1460.7z" fill="#fff" stroke="#ff0000" stroke-width="4.6"/><path d="M1454.4 1940L1467 1961.7H1441.8z" fill="#fff" stroke="#ff0000" stroke-width="4.6"/><path d="M1432.4 1886.5L1445 1908.2H1419.8z" fill="#fff" stroke="#ff0000" stroke-width="4.6"/><path d="M1418.8 1853.1L1431.4 1874.8H1406.2z" fill="#fff" stroke="#ff0000" stroke-width="4.6"/><path d="M1398.3 1813.8L1410.9 1835.6H1385.7z" fill="#fff" stroke="#ff0000" stroke-width="4.6"/><path d="M1378.6 1774L1391.2 1795.7H1366z" fill="#fff" stroke="#ff0000" stroke-width="4.6"/><path d="M1362 1764.8L1374.6 1786.6H1349.4z" fill="#fff" stroke="#ff0000" stroke-width="4.6"/>
<path d="M1480.3 2074.9v18.0M1519.3 2074.9v18.0M1490.8 2052.8h18.0M1490.8 2115h18.0M1471.5 2048.4v18.0M1509.7 2048.4v18.0M1481.6 2027.6h18.0M1481.6 2087.1h18.0M1465.1 2022v18.0M1502.5 2022v18.0M1474.8 2002.6h18.0M1474.8 2059.4h18.0M1455 1984.7v18.0M1491.6 1984.7v18.0M1464.3 1966.7h18.0M1464.3 2020.7h18.0M1436.5 1945.5v18.0M1472.3 1945.5v18.0M1445.4 1928.9h18.0M1445.4 1980.1h18.0M1414.9 1892v18.0M1449.9 1892v18.0M1423.4 1876.7h18.0M1423.4 1925.2h18.0M1401.7 1858.6v18.0M1435.9 1858.6v18.0M1409.8 1844.7h18.0M1409.8 1890.5h18.0M1381.6 1819.3v18.0M1415 1819.3v18.0M1389.3 1806.8h18.0M1389.3 1849.8h18.0M1362.3 1779.5v18.0M1394.9 1779.5v18.0M1369.6 1768.2h18.0M1369.6 1808.7h18.0M1346.1 1770.3v18.0M1377.9 1770.3v18.0M1353 1760.2h18.0M1353 1798.5h18.0" stroke="#ff0000" stroke-width="4.5" fill="none"/>
<path d="M1800.2 2594.8H1861.6M1830.9 2579.8V2609.8M1776.9 2540.6H1838.3M1807.6 2525.6V2555.6M1767 2509.6H1828M1797.5 2494.6V2524.6M1740.6 2451.4H1800M1770.3 2436.4V2466.4M1699.5 2370.8H1759.5M1729.5 2355.8V2385.8M1653.1 2280.7H1711.5M1682.3 2264.4V2296.9M1607.4 2193.3H1665.2M1636.3 2172V2214.5M1555.4 2090.8H1613.4M1584.4 2068.3V2113.3M1510.6 2014.7H1566M1538.3 1991.9V2037.6M1467.3 1941.2H1523.3M1495.3 1903.7V1978.7" stroke="#ff00ff" stroke-width="4.5" fill="none"/>
<path d="M1802.4 2594.8L1845.1 2570.1V2619.5z" fill="#ff00ff"/><path d="M1779.1 2540.6L1821.9 2515.9V2565.3z" fill="#ff00ff"/><path d="M1769 2509.6L1811.7 2484.9V2534.2z" fill="#ff00ff"/><path d="M1741.8 2451.4L1784.5 2426.8V2476.1z" fill="#ff00ff"/><path d="M1701 2370.8L1743.7 2346.1V2395.5z" fill="#ff00ff"/><path d="M1653.8 2280.7L1696.5 2256V2305.3z" fill="#ff00ff"/><path d="M1607.8 2193.3L1650.5 2168.6V2218z" fill="#ff00ff"/><path d="M1555.9 2090.8L1598.6 2066.1V2115.4z" fill="#ff00ff"/><path d="M1509.8 2014.7L1552.5 1990.1V2039.4z" fill="#ff00ff"/><path d="M1466.8 1941.2L1509.5 1916.6V1965.9z" fill="#ff00ff"/>
<path d="M1800.2 2585.8v18.0M1861.6 2585.8v18.0M1821.9 2579.8h18.0M1821.9 2609.8h18.0M1776.9 2531.6v18.0M1838.3 2531.6v18.0M1798.6 2525.6h18.0M1798.6 2555.6h18.0M1767 2500.6v18.0M1828 2500.6v18.0M1788.5 2494.6h18.0M1788.5 2524.6h18.0M1740.6 2442.4v18.0M1800 2442.4v18.0M1761.3 2436.4h18.0M1761.3 2466.4h18.0M1699.5 2361.8v18.0M1759.5 2361.8v18.0M1720.5 2355.8h18.0M1720.5 2385.8h18.0M1653.1 2271.7v18.0M1711.5 2271.7v18.0M1673.3 2264.4h18.0M1673.3 2296.9h18.0M1607.4 2184.3v18.0M1665.2 2184.3v18.0M1627.3 2172h18.0M1627.3 2214.5h18.0M1555.4 2081.8v18.0M1613.4 2081.8v18.0M1575.4 2068.3h18.0M1575.4 2113.3h18.0M1510.6 2005.7v18.0M1566 2005.7v18.0M1529.3 1991.9h18.0M1529.3 2037.6h18.0M1467.3 1932.2v18.0M1523.3 1932.2v18.0M1486.3 1903.7h18.0M1486.3 1978.7h18.0" stroke="#ff00ff" stroke-width="4.5" fill="none"/>
<path d="M1776.5 2549.2H1836.5M1806.5 2532.1V2566.3M1769.5 2524.8H1831.5M1800.5 2507.3V2542.3M1754 2487.8H1814M1784 2469.6V2506.1M1718.3 2404.3H1778.1M1748.2 2387.7V2420.9M1682.6 2344.5H1742.6M1712.6 2327V2362M1639.4 2250.4H1699.8M1669.6 2231.7V2269.2M1583.6 2150.1H1642M1612.8 2124.5V2175.8M1544.7 2076.1H1601.5M1573.1 2048.9V2103.4M1503.7 1978.2H1559.7M1531.7 1950.7V2005.7M1438 1878.6H1495.6M1466.8 1832.2V1925" stroke="#ff00ff" stroke-width="4.5" fill="none"/>
<path d="M1821 2549.2L1799.2 2561.8V2536.6z" fill="#fff" stroke="#ff00ff" stroke-width="4.6"/><path d="M1815 2524.8L1793.2 2537.4V2512.3z" fill="#fff" stroke="#ff00ff" stroke-width="4.6"/><path d="M1798.5 2487.8L1776.7 2500.4V2475.3z" fill="#fff" stroke="#ff00ff" stroke-width="4.6"/><path d="M1762.7 2404.3L1741 2416.9V2391.7z" fill="#fff" stroke="#ff00ff" stroke-width="4.6"/><path d="M1727.1 2344.5L1705.4 2357.1V2332z" fill="#fff" stroke="#ff00ff" stroke-width="4.6"/><path d="M1684.1 2250.4L1662.4 2263V2237.8z" fill="#fff" stroke="#ff00ff" stroke-width="4.6"/><path d="M1627.3 2150.1L1605.5 2162.7V2137.6z" fill="#fff" stroke="#ff00ff" stroke-width="4.6"/><path d="M1587.6 2076.1L1565.9 2088.7V2063.6z" fill="#fff" stroke="#ff00ff" stroke-width="4.6"/><path d="M1546.2 1978.2L1524.5 1990.8V1965.7z" fill="#fff" stroke="#ff00ff" stroke-width="4.6"/><path d="M1481.3 1878.6L1459.5 1891.2V1866z" fill="#fff" stroke="#ff00ff" stroke-width="4.6"/>
<path d="M1776.5 2540.2v18.0M1836.5 2540.2v18.0M1797.5 2532.1h18.0M1797.5 2566.3h18.0M1769.5 2515.8v18.0M1831.5 2515.8v18.0M1791.5 2507.3h18.0M1791.5 2542.3h18.0M1754 2478.8v18.0M1814 2478.8v18.0M1775 2469.6h18.0M1775 2506.1h18.0M1718.3 2395.3v18.0M1778.1 2395.3v18.0M1739.2 2387.7h18.0M1739.2 2420.9h18.0M1682.6 2335.5v18.0M1742.6 2335.5v18.0M1703.6 2327h18.0M1703.6 2362h18.0M1639.4 2241.4v18.0M1699.8 2241.4v18.0M1660.6 2231.7h18.0M1660.6 2269.2h18.0M1583.6 2141.1v18.0M1642 2141.1v18.0M1603.8 2124.5h18.0M1603.8 2175.8h18.0M1544.7 2067.1v18.0M1601.5 2067.1v18.0M1564.1 2048.9h18.0M1564.1 2103.4h18.0M1503.7 1969.2v18.0M1559.7 1969.2v18.0M1522.7 1950.7h18.0M1522.7 2005.7h18.0M1438 1869.6v18.0M1495.6 1869.6v18.0M1457.8 1832.2h18.0M1457.8 1925h18.0" stroke="#ff00ff" stroke-width="4.5" fill="none"/>
<path d="M2256 2870.9H2336M2296 2830.9V2910.9M2243.3 2833.4H2323.3M2283.3 2798.4V2868.4M2223.3 2843.4H2303.3M2263.3 2806.4V2880.4M2207.4 2771.1H2284.6M2246 2744.1V2798.1M2087.5 2751.6H2162.9M2125.2 2722.8V2780.4M1980.3 2636H2055.7M2018 2606.5V2665.5M1850.3 2477.1H1925.7M1888 2449.6V2504.6M1739.1 2346.8H1813.5M1776.3 2317.5V2376M1629.9 2256.7H1703.3M1666.6 2228.7V2284.7" stroke="#ff8000" stroke-width="4.5" fill="none"/>
<path d="M2296 2846.9L2318.8 2863.5L2310.1 2890.3L2281.9 2890.3L2273.2 2863.5z" fill="#ff8000"/><path d="M2283.3 2809.4L2306.1 2825.9L2297.4 2852.8L2269.2 2852.8L2260.5 2825.9z" fill="#ff8000"/><path d="M2263.3 2819.4L2286.1 2835.9L2277.4 2862.8L2249.2 2862.8L2240.5 2835.9z" fill="#ff8000"/><path d="M2246 2747.1L2268.8 2763.7L2260.1 2790.5L2231.9 2790.5L2223.2 2763.7z" fill="#ff8000"/><path d="M2125.2 2727.6L2148 2744.2L2139.3 2771L2111.1 2771L2102.4 2744.2z" fill="#ff8000"/><path d="M2018 2612L2040.8 2628.5L2032.1 2655.4L2003.9 2655.4L1995.2 2628.5z" fill="#ff8000"/><path d="M1888 2453.1L1910.8 2469.6L1902.1 2496.5L1873.9 2496.5L1865.2 2469.6z" fill="#ff8000"/><path d="M1776.3 2322.8L1799.1 2339.4L1790.4 2366.2L1762.2 2366.2L1753.5 2339.4z" fill="#ff8000"/><path d="M1666.6 2232.7L1689.4 2249.2L1680.7 2276.1L1652.5 2276.1L1643.8 2249.2z" fill="#ff8000"/>
<path d="M2256 2861.9v18.0M2336 2861.9v18.0M2287 2830.9h18.0M2287 2910.9h18.0M2243.3 2824.4v18.0M2323.3 2824.4v18.0M2274.3 2798.4h18.0M2274.3 2868.4h18.0M2223.3 2834.4v18.0M2303.3 2834.4v18.0M2254.3 2806.4h18.0M2254.3 2880.4h18.0M2207.4 2762.1v18.0M2284.6 2762.1v18.0M2237 2744.1h18.0M2237 2798.1h18.0M2087.5 2742.6v18.0M2162.9 2742.6v18.0M2116.2 2722.8h18.0M2116.2 2780.4h18.0M1980.3 2627v18.0M2055.7 2627v18.0M2009 2606.5h18.0M2009 2665.5h18.0M1850.3 2468.1v18.0M1925.7 2468.1v18.0M1879 2449.6h18.0M1879 2504.6h18.0M1739.1 2337.8v18.0M1813.5 2337.8v18.0M1767.3 2317.5h18.0M1767.3 2376h18.0M1629.9 2247.7v18.0M1703.3 2247.7v18.0M1657.6 2228.7h18.0M1657.6 2284.7h18.0" stroke="#ff8000" stroke-width="4.5" fill="none"/>
<path d="M2259.3 2862.1H2339.3M2299.3 2807.1V2917.1M2245.8 2830.9H2325.8M2285.8 2793.4V2868.4M2223.4 2840.9H2309.4M2266.4 2810.9V2870.9M2201.7 2772.5H2276.7M2239.2 2739V2806M2096 2771H2170M2133 2742.6V2799.4M1977.2 2636.2H2050M2013.6 2606.7V2665.7M1856.4 2494.7H1928.8M1892.6 2465.3V2524.1M1739.2 2362.7H1813.6M1776.4 2335.2V2390.2M1612.2 2256.7H1684M1648.1 2228.7V2284.7" stroke="#ff8000" stroke-width="4.5" fill="none"/>
<path d="M2299.3 2848.8L2312.7 2862.1L2299.3 2875.5L2286 2862.1z" fill="#fff" stroke="#ff8000" stroke-width="4.7"/><path d="M2285.8 2817.5L2299.2 2830.9L2285.8 2844.2L2272.5 2830.9z" fill="#fff" stroke="#ff8000" stroke-width="4.7"/><path d="M2266.4 2827.5L2279.7 2840.9L2266.4 2854.2L2253 2840.9z" fill="#fff" stroke="#ff8000" stroke-width="4.7"/><path d="M2239.2 2759.1L2252.5 2772.5L2239.2 2785.8L2225.8 2772.5z" fill="#fff" stroke="#ff8000" stroke-width="4.7"/><path d="M2133 2757.6L2146.3 2771L2133 2784.3L2119.7 2771z" fill="#fff" stroke="#ff8000" stroke-width="4.7"/><path d="M2013.6 2622.9L2027 2636.2L2013.6 2649.6L2000.3 2636.2z" fill="#fff" stroke="#ff8000" stroke-width="4.7"/><path d="M1892.6 2481.3L1906 2494.7L1892.6 2508L1879.3 2494.7z" fill="#fff" stroke="#ff8000" stroke-width="4.7"/><path d="M1776.4 2349.3L1789.7 2362.7L1776.4 2376L1763 2362.7z" fill="#fff" stroke="#ff8000" stroke-width="4.7"/><path d="M1648.1 2243.3L1661.5 2256.7L1648.1 2270L1634.8 2256.7z" fill="#fff" stroke="#ff8000" stroke-width="4.7"/>
<path d="M2259.3 2853.1v18.0M2339.3 2853.1v18.0M2290.3 2807.1h18.0M2290.3 2917.1h18.0M2245.8 2821.9v18.0M2325.8 2821.9v18.0M2276.8 2793.4h18.0M2276.8 2868.4h18.0M2223.4 2831.9v18.0M2309.4 2831.9v18.0M2257.4 2810.9h18.0M2257.4 2870.9h18.0M2201.7 2763.5v18.0M2276.7 2763.5v18.0M2230.2 2739h18.0M2230.2 2806h18.0M2096 2762v18.0M2170 2762v18.0M2124 2742.6h18.0M2124 2799.4h18.0M1977.2 2627.2v18.0M2050 2627.2v18.0M2004.6 2606.7h18.0M2004.6 2665.7h18.0M1856.4 2485.7v18.0M1928.8 2485.7v18.0M1883.6 2465.3h18.0M1883.6 2524.1h18.0M1739.2 2353.7v18.0M1813.6 2353.7v18.0M1767.4 2335.2h18.0M1767.4 2390.2h18.0M1612.2 2247.7v18.0M1684 2247.7v18.0M1639.1 2228.7h18.0M1639.1 2284.7h18.0" stroke="#ff8000" stroke-width="4.5" fill="none"/>
<path d="M1693.6 2384.2H1757M1693.6 2371.8H1757M1679.9 2332.2H1742.3M1620.8 2213.9H1682.2M1561.8 2101H1621.8M1499.1 1986H1558.5M1466.1 1951H1524.9" stroke="#008000" stroke-width="4.5" fill="none"/>
<use href="#sp" x="1725.3" y="2384.2"/><use href="#sp" x="1725.3" y="2371.8"/><use href="#sp" x="1711.1" y="2332.2"/><use href="#sp" x="1651.5" y="2213.9"/><use href="#sp" x="1591.8" y="2101"/><use href="#sp" x="1528.8" y="1986"/><use href="#sp" x="1495.5" y="1951"/>
<path d="M1693.6 2375.2v18.0M1757 2375.2v18.0M1693.6 2362.8v18.0M1757 2362.8v18.0M1679.9 2323.2v18.0M1742.3 2323.2v18.0M1620.8 2204.9v18.0M1682.2 2204.9v18.0M1561.8 2092v18.0M1621.8 2092v18.0M1499.1 1977v18.0M1558.5 1977v18.0M1466.1 1942v18.0M1524.9 1942v18.0" stroke="#008000" stroke-width="4.5" fill="none"/>
<path d="M2277.6 2866.6H2399.6M2338.6 2838.5V2894.7M2277.5 2855.5H2399.7M2338.6 2816.2V2894.7M2251.9 2843.1H2373.9M2312.9 2806.4V2879.9M2136.9 2714H2259.1M2198 2680.7V2747.2M1957.6 2529.3H2076M2016.8 2501.1V2557.6M1781.4 2350.3H1898.4M1839.9 2329.8V2370.8M1668.3 2267.3H1783.7M1726 2247.8V2286.8" stroke="#0000ff" stroke-width="4.5" fill="none"/>
<path d="M2338.6 2843.9L2358.3 2855.3V2878L2338.6 2889.3L2318.9 2878V2855.3z" fill="#0000ff"/><path d="M2338.6 2832.8L2358.3 2844.1V2866.8L2338.6 2878.2L2318.9 2866.8V2844.1z" fill="#0000ff"/><path d="M2312.9 2820.4L2332.6 2831.8V2854.5L2312.9 2865.8L2293.2 2854.5V2831.8z" fill="#0000ff"/><path d="M2198 2691.3L2217.7 2702.6V2725.3L2198 2736.7L2178.3 2725.3V2702.6z" fill="#0000ff"/><path d="M2016.8 2506.6L2036.5 2518V2540.7L2016.8 2552L1997.1 2540.7V2518z" fill="#0000ff"/><path d="M1839.9 2327.6L1859.6 2338.9V2361.6L1839.9 2373L1820.2 2361.6V2338.9z" fill="#0000ff"/><path d="M1726 2244.6L1745.7 2255.9V2278.6L1726 2290L1706.3 2278.6V2255.9z" fill="#0000ff"/>
<path d="M2277.6 2857.6v18.0M2399.6 2857.6v18.0M2329.6 2838.5h18.0M2329.6 2894.7h18.0M2277.5 2846.5v18.0M2399.7 2846.5v18.0M2329.6 2816.2h18.0M2329.6 2894.7h18.0M2251.9 2834.1v18.0M2373.9 2834.1v18.0M2303.9 2806.4h18.0M2303.9 2879.9h18.0M2136.9 2705v18.0M2259.1 2705v18.0M2189 2680.7h18.0M2189 2747.2h18.0M1957.6 2520.3v18.0M2076 2520.3v18.0M2007.8 2501.1h18.0M2007.8 2557.6h18.0M1781.4 2341.3v18.0M1898.4 2341.3v18.0M1830.9 2329.8h18.0M1830.9 2370.8h18.0M1668.3 2258.3v18.0M1783.7 2258.3v18.0M1717 2247.8h18.0M1717 2286.8h18.0" stroke="#0000ff" stroke-width="4.5" fill="none"/>
<path d="M1114.6 3009.9v-17.9M1114.6 1651.1v17.9M1265.6 3009.9v-17.9M1265.6 1651.1v17.9M1416.6 3009.9v-17.9M1416.6 1651.1v17.9M1567.5 3009.9v-17.9M1567.5 1651.1v17.9M1718.5 3009.9v-17.9M1718.5 1651.1v17.9M1869.5 3009.9v-17.9M1869.5 1651.1v17.9M2020.5 3009.9v-17.9M2020.5 1651.1v17.9M2171.4 3009.9v-17.9M2171.4 1651.1v17.9M2322.4 3009.9v-17.9M2322.4 1651.1v17.9M2473.4 3009.9v-17.9M2473.4 1651.1v17.9M1190.1 3009.9v-8.8M1190.1 1651.1v8.8M1341.1 3009.9v-8.8M1341.1 1651.1v8.8M1492 3009.9v-8.8M1492 1651.1v8.8M1643 3009.9v-8.8M1643 1651.1v8.8M1794 3009.9v-8.8M1794 1651.1v8.8M1945 3009.9v-8.8M1945 1651.1v8.8M2096 3009.9v-8.8M2096 1651.1v8.8M2246.9 3009.9v-8.8M2246.9 1651.1v8.8M2397.9 3009.9v-8.8M2397.9 1651.1v8.8M1114.6 2942h17.9M2473.4 2942h-17.9M1114.6 2738.1h17.9M2473.4 2738.1h-17.9M1114.6 2534.3h17.9M2473.4 2534.3h-17.9M1114.6 2330.5h17.9M2473.4 2330.5h-17.9M1114.6 2126.7h17.9M2473.4 2126.7h-17.9M1114.6 1922.9h17.9M2473.4 1922.9h-17.9M1114.6 1719h17.9M2473.4 1719h-17.9M1114.6 2840.1h8.8M2473.4 2840.1h-8.8M1114.6 2636.2h8.8M2473.4 2636.2h-8.8M1114.6 2432.4h8.8M2473.4 2432.4h-8.8M1114.6 2228.6h8.8M2473.4 2228.6h-8.8M1114.6 2024.8h8.8M2473.4 2024.8h-8.8M1114.6 1820.9h8.8M2473.4 1820.9h-8.8" stroke="#000" stroke-width="4.8" fill="none"/>
<rect x="1114.6" y="1651.1" width="1358.8" height="1358.8" fill="none" stroke="#000" stroke-width="4.8"/>
<g font-family="Liberation Sans, Arial, sans-serif" font-size="40.4" fill="#000">
<text x="1114.6" y="3062.2" text-anchor="middle">0.0</text>
<text x="1265.6" y="3062.2" text-anchor="middle">0.1</text>
<text x="1416.6" y="3062.2" text-anchor="middle">0.2</text>
<text x="1567.5" y="3062.2" text-anchor="middle">0.3</text>
<text x="1718.5" y="3062.2" text-anchor="middle">0.4</text>
<text x="1869.5" y="3062.2" text-anchor="middle">0.5</text>
<text x="2020.5" y="3062.2" text-anchor="middle">0.6</text>
<text x="2171.4" y="3062.2" text-anchor="middle">0.7</text>
<text x="2322.4" y="3062.2" text-anchor="middle">0.8</text>
<text x="2473.4" y="3062.2" text-anchor="middle">0.9</text>
<text x="1094.6" y="2954.4" text-anchor="end">0.99</text>
<text x="1094.6" y="2750.5" text-anchor="end">1.02</text>
<text x="1094.6" y="2546.7" text-anchor="end">1.05</text>
<text x="1094.6" y="2342.9" text-anchor="end">1.08</text>
<text x="1094.6" y="2139.1" text-anchor="end">1.11</text>
<text x="1094.6" y="1935.3" text-anchor="end">1.14</text>
<text x="1094.6" y="1731.4" text-anchor="end">1.17</text>
</g>
<path d="M2252.3 2486.2L1821.3 2014.4" stroke="#000" stroke-width="4.6"/>
<path d="M1799.9 1991L1828.6 2010.4L1816.6 2021.4z" fill="#000"/>
<g transform="translate(973.5 1620.4)">
<path d="M232.5 1264.5L207.8 1221.8H257.2z" fill="#ff0000"/>
<path d="M413.3 1221.6L425.9 1243.3H400.7z" fill="#fff" stroke="#ff0000" stroke-width="4.6"/>
<path d="M534 1235.3L576.8 1210.6V1260z" fill="#ff00ff"/>
<path d="M749.1 1236.2L727.4 1248.8V1223.6z" fill="#fff" stroke="#ff00ff" stroke-width="4.6"/>
<path d="M232.5 1291.4L255.3 1308L246.6 1334.8L218.4 1334.8L209.7 1308z" fill="#ff8000"/>
<path d="M413 1301.2L426.4 1314.6L413 1327.9L399.6 1314.6z" fill="#fff" stroke="#ff8000" stroke-width="4.7"/>
<use href="#sp" x="563" y="1315"/>
<path d="M735 1292.3L754.7 1303.7V1326.3L735 1337.7L715.3 1326.3V1303.7z" fill="#0000ff"/>
<g font-family="Liberation Sans, Arial, sans-serif" font-size="58" fill="#000">
<text font-family="Liberation Serif, Times New Roman, serif" font-size="64" stroke="#000" stroke-width="0.9" x="281.5" y="1251.3">π</text>
<text font-size="55" stroke="#000" stroke-width="1.3" x="314.6" y="1229.6">+</text>
<text font-family="Liberation Serif, Times New Roman, serif" font-size="64" stroke="#000" stroke-width="0.9" x="462" y="1251.3">π</text>
<text stroke="#000" stroke-width="1" x="494.6" y="1232.9">-</text>
<text font-size="60" x="611.8" y="1250.9">K</text><text font-size="55" stroke="#000" stroke-width="1.3" x="652.7" y="1229.9">+</text>
<text font-size="60" x="783.6" y="1250.9">K</text><text stroke="#000" stroke-width="1" x="823.5" y="1232.9">-</text>
<text x="281.5" y="1329.8">p</text>
<text x="463.2" y="1329.8">p</text><path d="M455.2 1283.5H495" stroke="#000" stroke-width="4.9"/>
<text font-size="60" x="611.8" y="1330.3">K</text><text font-size="40" x="651.8" y="1306">0</text><text font-size="40" x="652" y="1345.6">s</text>
<text font-family="Liberation Serif, Times New Roman, serif" font-size="57" x="784.8" y="1329.4">Λ</text>
</g></g>
<g font-family="Liberation Sans, Arial, sans-serif" fill="#000">
<text font-size="57.8" x="1826" y="1743.4" xml:space="preserve">Pb-Pb  2.76 TeV</text>
<text font-size="58.5" x="2336.5" y="1740.5">(c)</text>
<text font-size="53" x="2273" y="2700.8">Central</text>
<text font-size="52.5" x="1474.4" y="1790.9">Peripheral</text>
<text font-size="62" transform="translate(992.7 2330.7) rotate(-90)" text-anchor="middle">q</text>
<text font-size="61.8" x="1794.3" y="3146.3" text-anchor="middle">&lt;p<tspan font-size="40" dy="15.7">T</tspan><tspan dy="-15.7">&gt; [GeV/c]</tspan></text>
</g>
</svg>
</body></html>
